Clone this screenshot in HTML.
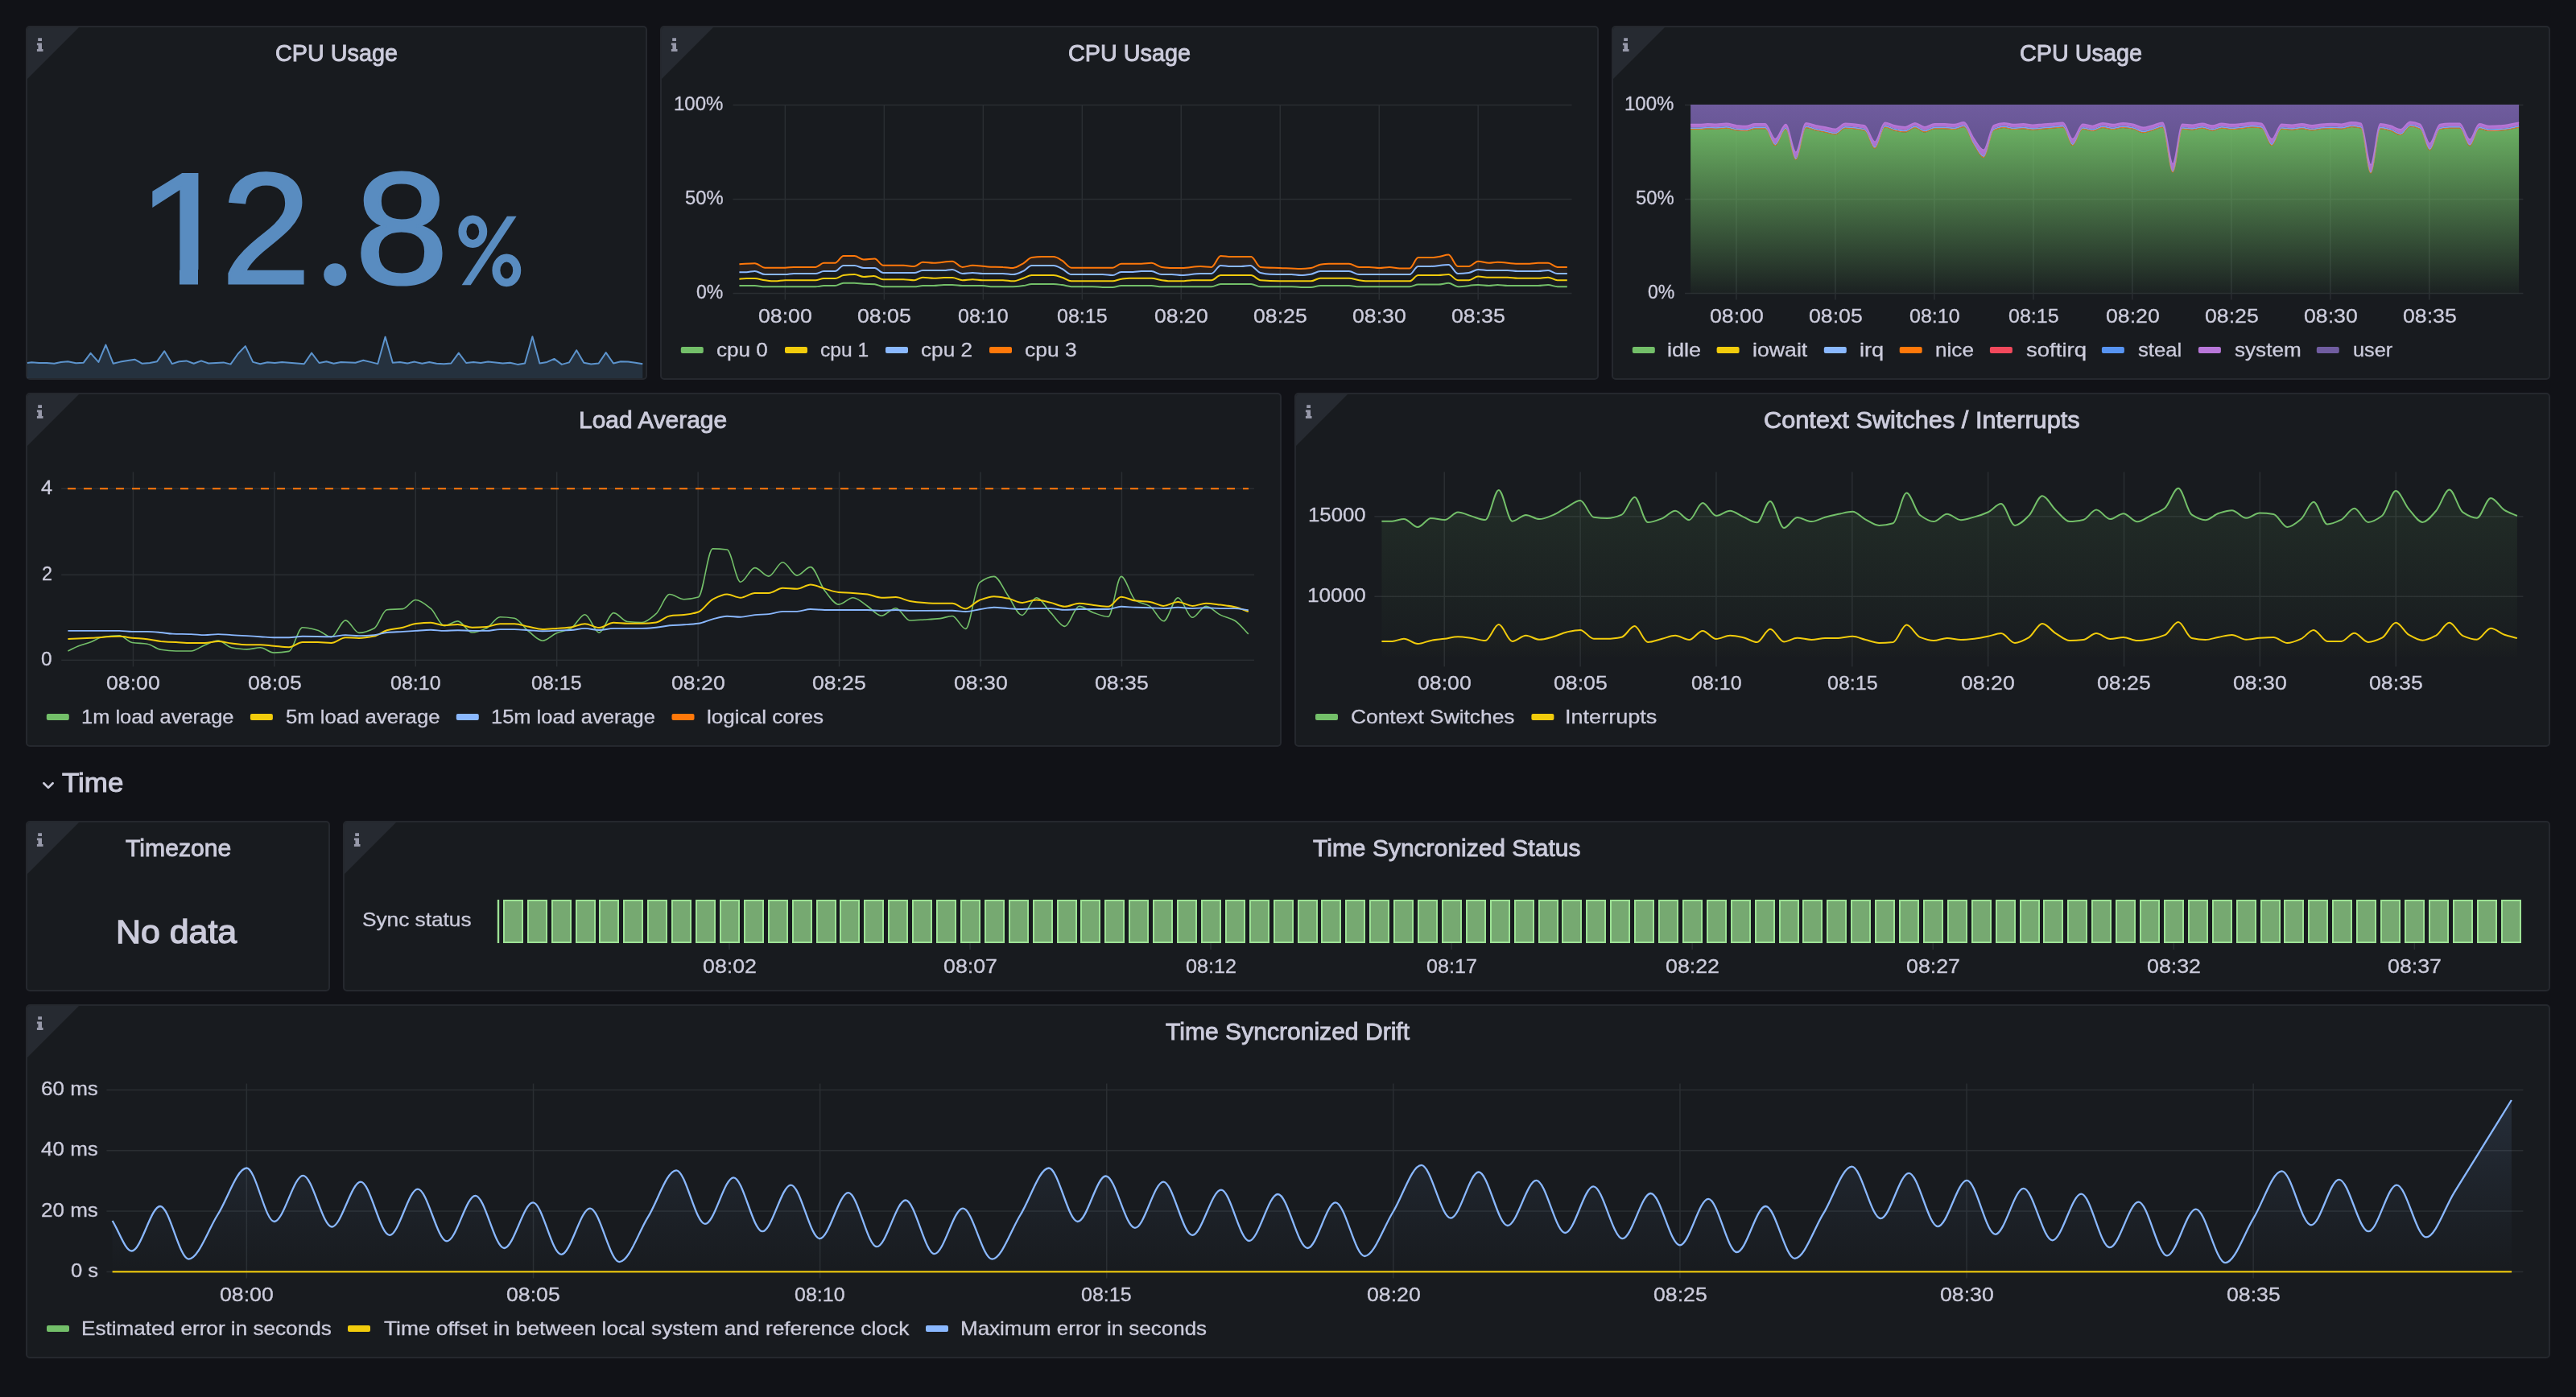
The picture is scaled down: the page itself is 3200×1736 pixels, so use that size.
<!DOCTYPE html>
<html><head><meta charset="utf-8"><title>Dashboard</title><style>
html,body{margin:0;padding:0;background:#111217}
body{width:3200px;height:1736px;position:relative;overflow:hidden;font-family:"Liberation Sans",sans-serif;color:#ccccdc}
.p{position:absolute;box-sizing:content-box;background:#181b1f;border:2px solid #25282e;border-radius:5px;overflow:hidden}
.c{position:absolute;left:0;top:0;width:0;height:0;border-top:64px solid #262a31;border-right:64px solid transparent}
.t{position:absolute;white-space:pre;line-height:1;transform-origin:0 0;font-weight:400;-webkit-text-stroke:0.3px #ccccdc}
svg{position:absolute;left:0;top:0}
.m{position:absolute;background:#181b1f}
#tx{position:absolute;left:0;top:0;width:3200px;height:1736px;will-change:transform}
</style></head><body>
<div class="p" style="left:32px;top:32px;width:768px;height:436px"><i class="c"></i></div>
<div class="p" style="left:820px;top:32px;width:1162px;height:436px"><i class="c"></i></div>
<div class="p" style="left:2002px;top:32px;width:1162px;height:436px"><i class="c"></i></div>
<div class="p" style="left:32px;top:488px;width:1556px;height:436px"><i class="c"></i></div>
<div class="p" style="left:1608px;top:488px;width:1556px;height:436px"><i class="c"></i></div>
<div class="p" style="left:32px;top:1020px;width:374px;height:208px"><i class="c"></i></div>
<div class="p" style="left:426px;top:1020px;width:2738px;height:208px"><i class="c"></i></div>
<div class="p" style="left:32px;top:1248px;width:3132px;height:436px"><i class="c"></i></div>
<svg width="3200" height="1736" viewBox="0 0 3200 1736"><defs><linearGradient id="gi" gradientUnits="userSpaceOnUse" x1="0" y1="160" x2="0" y2="364"><stop offset="0" stop-color="#73BF69" stop-opacity="0.9"/><stop offset="1" stop-color="#73BF69" stop-opacity="0.04"/></linearGradient><linearGradient id="gu" gradientUnits="userSpaceOnUse" x1="0" y1="130" x2="0" y2="215"><stop offset="0" stop-color="#725ea2" stop-opacity="0.97"/><stop offset="1" stop-color="#5f4f8b" stop-opacity="0.97"/></linearGradient><linearGradient id="gc" gradientUnits="userSpaceOnUse" x1="0" y1="610" x2="0" y2="820"><stop offset="0" stop-color="#73BF69" stop-opacity="0.11"/><stop offset="1" stop-color="#73BF69" stop-opacity="0"/></linearGradient><linearGradient id="gy" gradientUnits="userSpaceOnUse" x1="0" y1="770" x2="0" y2="820"><stop offset="0" stop-color="#F2CC0C" stop-opacity="0.03"/><stop offset="1" stop-color="#F2CC0C" stop-opacity="0"/></linearGradient><linearGradient id="gd" gradientUnits="userSpaceOnUse" x1="0" y1="1367" x2="0" y2="1580"><stop offset="0" stop-color="#8AB8FF" stop-opacity="0.12"/><stop offset="0.45" stop-color="#8AB8FF" stop-opacity="0.06"/><stop offset="1" stop-color="#8AB8FF" stop-opacity="0"/></linearGradient></defs>
<path fill="#9799aa" d="M47.2 47.3h4.8v3.8h-4.8zM45.9 53.4h6.1v7.6h1.5v2.9h-7.6v-2.9h1.5v-4.8h-1.5z"/>
<path fill="#9799aa" d="M835.2 47.3h4.8v3.8h-4.8zM833.9 53.4h6.1v7.6h1.5v2.9h-7.6v-2.9h1.5v-4.8h-1.5z"/>
<path fill="#9799aa" d="M2017.2 47.3h4.8v3.8h-4.8zM2015.9 53.4h6.1v7.6h1.5v2.9h-7.6v-2.9h1.5v-4.8h-1.5z"/>
<path fill="#9799aa" d="M47.2 503.3h4.8v3.8h-4.8zM45.9 509.4h6.1v7.6h1.5v2.9h-7.6v-2.9h1.5v-4.8h-1.5z"/>
<path fill="#9799aa" d="M1623.2 503.3h4.8v3.8h-4.8zM1621.9 509.4h6.1v7.6h1.5v2.9h-7.6v-2.9h1.5v-4.8h-1.5z"/>
<path fill="#9799aa" d="M47.2 1035.3h4.8v3.8h-4.8zM45.9 1041.4h6.1v7.6h1.5v2.9h-7.6v-2.9h1.5v-4.8h-1.5z"/>
<path fill="#9799aa" d="M441.2 1035.3h4.8v3.8h-4.8zM439.9 1041.4h6.1v7.6h1.5v2.9h-7.6v-2.9h1.5v-4.8h-1.5z"/>
<path fill="#9799aa" d="M47.2 1263.3h4.8v3.8h-4.8zM45.9 1269.4h6.1v7.6h1.5v2.9h-7.6v-2.9h1.5v-4.8h-1.5z"/>
<circle cx="416.3" cy="341.3" r="14.1" fill="#598cc0"/>
<g fill="none" stroke="#598cc0" stroke-width="10"><ellipse cx="587.3" cy="287.7" rx="12.9" ry="15.3"/><ellipse cx="629.3" cy="335.9" rx="12.9" ry="15.3"/></g>
<path d="M629.9 268.8H641.6L584.7 354.2H573.6Z" fill="#598cc0"/>
<path d="M33.9 451L39.3 450.2L48.6 451L58 451L67.3 451.8L75.8 449.9L84.3 449.2L94.4 451.3L103.8 450.7L112.6 438.9L122.4 449.9L131.4 428.5L140.7 451.8L149.6 449.6L158.9 448.1L167.4 446.7L176.7 451.8L186.1 451L195.1 449.2L204.2 436.3L213.7 452.1L222.5 449.2L231.6 448.4L240.7 451.8L250 448.4L259 451.5L268.4 451L277.7 450.4L286.5 452.6L295.5 439.7L304.8 430.1L314.2 449.9L323.2 452.3L332.3 450.2L341.3 451L350.3 449.9L359.5 450.7L368.8 451.5L377.8 452.3L387.1 438.6L396.5 451L405.5 449.2L414.5 451.8L423.6 449.9L441.6 450.7L451.3 447.8L460.3 449.9L469.3 452.1L478.6 418.6L487.8 450.7L496.8 449.9L506.1 451.5L515.1 449.6L524.3 451.8L533.3 449.9L542.3 451.8L551.4 452.3L560.4 451.5L569.8 438.6L579.1 451L588.1 449.9L597.2 451L606.2 449.6L615.6 450.4L624.6 451.5L633.7 450.7L643 452.9L652 451.5L661.4 418.3L670.4 451.5L679.5 449.9L688.5 445.9L697.9 452.9L706.9 450.4L716.2 435.2L725.3 450.7L734.3 452.6L743.7 451.5L752.7 438.1L762 451.5L771.1 449.2L780.2 449.6L789.2 450.7L798.3 452.3L798.3 470L33.9 470Z" fill="#598cc0" fill-opacity="0.2"/>
<path d="M33.9 451L39.3 450.2L48.6 451L58 451L67.3 451.8L75.8 449.9L84.3 449.2L94.4 451.3L103.8 450.7L112.6 438.9L122.4 449.9L131.4 428.5L140.7 451.8L149.6 449.6L158.9 448.1L167.4 446.7L176.7 451.8L186.1 451L195.1 449.2L204.2 436.3L213.7 452.1L222.5 449.2L231.6 448.4L240.7 451.8L250 448.4L259 451.5L268.4 451L277.7 450.4L286.5 452.6L295.5 439.7L304.8 430.1L314.2 449.9L323.2 452.3L332.3 450.2L341.3 451L350.3 449.9L359.5 450.7L368.8 451.5L377.8 452.3L387.1 438.6L396.5 451L405.5 449.2L414.5 451.8L423.6 449.9L441.6 450.7L451.3 447.8L460.3 449.9L469.3 452.1L478.6 418.6L487.8 450.7L496.8 449.9L506.1 451.5L515.1 449.6L524.3 451.8L533.3 449.9L542.3 451.8L551.4 452.3L560.4 451.5L569.8 438.6L579.1 451L588.1 449.9L597.2 451L606.2 449.6L615.6 450.4L624.6 451.5L633.7 450.7L643 452.9L652 451.5L661.4 418.3L670.4 451.5L679.5 449.9L688.5 445.9L697.9 452.9L706.9 450.4L716.2 435.2L725.3 450.7L734.3 452.6L743.7 451.5L752.7 438.1L762 451.5L771.1 449.2L780.2 449.6L789.2 450.7L798.3 452.3" fill="none" stroke="#5c93cc" stroke-width="2" stroke-linejoin="round"/>
<rect x="910.5" y="129.8" width="1042" height="1.5" fill="#2a2e32"/>
<rect x="910.5" y="246.8" width="1042" height="1.5" fill="#2a2e32"/>
<rect x="910.5" y="363.8" width="1042" height="1.5" fill="#2a2e32"/>
<rect x="974.6" y="130.5" width="1.5" height="242" fill="#2a2e32"/>
<rect x="1097.6" y="130.5" width="1.5" height="242" fill="#2a2e32"/>
<rect x="1220.6" y="130.5" width="1.5" height="242" fill="#2a2e32"/>
<rect x="1343.6" y="130.5" width="1.5" height="242" fill="#2a2e32"/>
<rect x="1466.5" y="130.5" width="1.5" height="242" fill="#2a2e32"/>
<rect x="1589.5" y="130.5" width="1.5" height="242" fill="#2a2e32"/>
<rect x="1712.5" y="130.5" width="1.5" height="242" fill="#2a2e32"/>
<rect x="1835.4" y="130.5" width="1.5" height="242" fill="#2a2e32"/>
<path d="M918.4 328.3C924.9 328 931.3 327.3 937.7 327.3C941.9 327.3 946.1 332.7 950.3 332.7C958.7 332.7 967.1 332.7 975.5 332.7C979 332.7 982.5 331.9 986 331.9C995 331.9 1004.1 331.9 1013.2 331.9C1016.6 331.9 1019.9 326.8 1023.3 326.8C1028 326.8 1032.6 326.8 1037.3 326.8C1040.8 326.8 1044.3 318 1047.8 318C1052.3 318 1056.9 318 1061.4 318C1065.3 318 1069.1 322.6 1073 322.6C1077.5 322.6 1082 321.6 1086.6 321.6C1090.1 321.6 1093.6 329.8 1097.1 329.8C1105.5 329.8 1113.8 329.8 1122.2 329.8C1126.8 329.8 1131.3 331 1135.8 331C1139.3 331 1142.8 325.8 1146.3 325.8C1150.9 325.8 1155.4 326.8 1160 326.8C1167.6 326.8 1175.3 324.7 1183 324.7C1187.2 324.7 1191.4 331.9 1195.6 331.9C1199.8 331.9 1204 329.8 1208.2 329.8C1214.5 329.8 1220.8 331.2 1227 331.4C1233.3 331.7 1239.6 331.6 1245.9 331.9C1250.1 332 1254.3 332.9 1258.5 332.9C1262.7 332.9 1266.9 329.5 1271.1 327.3C1274.6 325.3 1278.1 320.7 1281.6 320.1C1285.7 319.5 1289.9 319.1 1294.1 319.1C1299 319.1 1303.9 319.1 1308.8 319.1C1312.3 319.1 1315.8 321.7 1319.3 323.7C1323.1 325.8 1327 332.7 1330.8 332.7C1347.9 332.7 1365.1 332.7 1382.2 332.7C1385.7 332.7 1389.2 327.7 1392.7 327.7C1401 327.7 1409.4 327.7 1417.8 327.7C1422 327.7 1426.2 326.8 1430.4 326.8C1434.6 326.8 1438.8 331.3 1443.1 331.9C1447.3 332.4 1451.4 332.9 1455.6 332.9C1459.8 332.9 1464 332.9 1468.2 332.9C1475.9 332.9 1483.6 331 1491.3 331C1495.8 331 1500.4 331.9 1504.9 331.9C1508.7 331.9 1512.6 318 1516.4 318C1520.6 318 1524.8 319.1 1529 319.1C1537.4 319.1 1545.8 319.1 1554.2 319.1C1558 319.1 1561.9 331.5 1565.7 331.9C1573.7 332.6 1581.8 332.6 1589.8 332.9C1598.5 333.3 1607.3 334 1616 334C1620.2 334 1624.4 333.5 1628.6 332.9C1632.4 332.4 1636.3 329.3 1640.1 328.7C1643.6 328.2 1647.1 327.7 1650.6 327.7C1659 327.7 1667.4 327.7 1675.8 327.7C1680 327.7 1684.2 331.9 1688.3 331.9C1692.5 331.9 1696.7 331.9 1700.9 331.9C1705.1 331.9 1709.3 332.9 1713.5 332.9C1717.7 332.9 1721.9 331.9 1726.1 331.9C1730.3 331.9 1734.5 333.5 1738.7 333.5C1742.9 333.5 1747 333.5 1751.2 333.5C1754.7 333.5 1758.2 320.1 1761.7 320.1C1766.6 320.1 1771.5 320.1 1776.4 320.1C1779.9 320.1 1783.4 319.5 1786.9 319.1C1791.1 318.5 1795.3 316.6 1799.5 316.6C1803.3 316.6 1807.1 331 1811 331C1815.5 331 1820.1 331 1824.6 331C1828.5 331 1832.3 324.7 1836.1 324.7C1840.7 324.7 1845.2 326.8 1849.8 326.8C1853.3 326.8 1856.8 325.8 1860.3 325.8C1868.6 325.8 1877 327.7 1885.4 327.7C1890.3 327.7 1895.2 327.7 1900.1 327.7C1903.6 327.7 1907.1 326.8 1910.6 326.8C1914.8 326.8 1919 326.8 1923.1 326.8C1927 326.8 1930.8 331.9 1934.7 331.9C1938.7 331.9 1942.8 331.9 1946.8 331.9L1946.8 340C1942.8 340 1938.7 340 1934.7 340C1930.8 340 1927 336.1 1923.1 336.1C1919 336.1 1914.8 337.1 1910.6 337.1C1902.2 337.1 1893.8 337.1 1885.4 337.1C1881.2 337.1 1877 336.1 1872.8 336.1C1865.1 336.1 1857.5 336.1 1849.8 336.1C1845.2 336.1 1840.7 335 1836.1 335C1832.3 335 1828.5 338.5 1824.6 339C1820.1 339.6 1815.5 340 1811 340C1807.1 340 1803.3 328.9 1799.5 328.9C1791.8 328.9 1784.1 331 1776.4 331C1771.5 331 1766.6 331 1761.7 331C1758.2 331 1754.7 341.1 1751.2 341.1C1730.3 341.1 1709.3 341.1 1688.3 341.1C1684.2 341.1 1680 337.1 1675.8 337.1C1663.9 337.1 1652 337.1 1640.1 337.1C1636.3 337.1 1632.4 340 1628.6 340.7C1624.4 341.4 1620.2 342.1 1616 342.1C1612.2 342.1 1608.3 341.2 1604.5 341.1C1595.4 340.8 1586.3 341 1577.2 340.7C1573.4 340.6 1569.5 339.9 1565.7 339C1561.5 338 1557.3 330 1553.1 330C1549.3 330 1545.4 331 1541.6 331C1537.4 331 1533.2 331 1529 331C1524.8 331 1520.6 330 1516.4 330C1512.6 330 1508.7 340 1504.9 340C1500.4 340 1495.8 340 1491.3 340C1483.6 340 1475.9 342.1 1468.2 342.1C1464 342.1 1459.8 341.1 1455.6 341.1C1451.4 341.1 1447.3 341.1 1443.1 341.1C1438.8 341.1 1434.6 337.1 1430.4 337.1C1426.2 337.1 1422 337.1 1417.8 337.1C1414.3 337.1 1410.8 337.9 1407.3 337.9C1402.4 337.9 1397.6 337.9 1392.7 337.9C1389.2 337.9 1385.7 342.1 1382.2 342.1C1378 342.1 1373.8 341.1 1369.6 341.1C1356.7 341.1 1343.7 341.1 1330.8 341.1C1327 341.1 1323.1 335.8 1319.3 334C1315.8 332.3 1312.3 330 1308.8 330C1299.7 330 1290.6 330 1281.6 330C1278.1 330 1274.6 335.3 1271.1 336.9C1266.9 338.8 1262.7 341.1 1258.5 341.1C1254.3 341.1 1250.1 340 1245.9 340C1237.5 340 1229.1 340 1220.8 340C1216.6 340 1212.4 339 1208.2 339C1204 339 1199.8 340 1195.6 340C1191.4 340 1187.2 335 1183 335C1179.5 335 1176 336.1 1172.5 336.1C1163.8 336.1 1155.1 336.1 1146.3 336.1C1142.8 336.1 1139.3 339 1135.8 339C1122.9 339 1110 339 1097.1 339C1093.6 339 1090.1 332.9 1086.6 332.9C1082 332.9 1077.5 332.9 1073 332.9C1069.1 332.9 1065.3 330 1061.4 330C1056.9 330 1052.3 330 1047.8 330C1044.3 330 1040.8 337.1 1037.3 337.1C1032.6 337.1 1028 337.1 1023.3 337.1C1019.9 337.1 1016.6 340 1013.2 340C1004.1 340 995 340 986 340C982.5 340 979 341.1 975.5 341.1C967.1 341.1 958.7 341.1 950.3 341.1C946.1 341.1 941.9 336.9 937.7 336.9C934.2 336.9 930.7 338.2 927.3 338.2C924.3 338.2 921.4 338.2 918.4 338.2Z" fill="#FF780A" fill-opacity="0.075"/>
<path d="M918.4 355.1C924.9 355.1 931.3 355.1 937.7 355.1C941.9 355.1 946.1 356.2 950.3 356.2C971.3 356.2 992.2 356.2 1013.2 356.2C1016.6 356.2 1019.9 355.1 1023.3 355.1C1028 355.1 1032.6 355.1 1037.3 355.1C1040.8 355.1 1044.3 351.8 1047.8 351.8C1052.3 351.8 1056.9 351.8 1061.4 351.8C1065.3 351.8 1069.1 352.7 1073 352.8C1077.5 353 1082 353 1086.6 353.2C1090.1 353.5 1093.6 356.2 1097.1 356.2C1110 356.2 1122.9 356.2 1135.8 356.2C1139.3 356.2 1142.8 355.1 1146.3 355.1C1150.9 355.1 1155.4 355.1 1160 355.1C1164.2 355.1 1168.3 354.1 1172.5 354.1C1176 354.1 1179.5 354.1 1183 354.1C1187.2 354.1 1191.4 355.1 1195.6 355.1C1204 355.1 1212.4 355.1 1220.8 355.1C1224.9 355.1 1229.1 356.2 1233.3 356.2C1241.7 356.2 1250.1 356.2 1258.5 356.2C1262.7 356.2 1266.9 355.6 1271.1 355.1C1274.6 354.7 1278.1 353 1281.6 353C1290.6 353 1299.7 353 1308.8 353C1312.3 353 1315.8 353.6 1319.3 354.1C1323.1 354.6 1327 356.2 1330.8 356.2C1339.6 356.2 1348.3 356.2 1357 356.2C1361.2 356.2 1365.4 357 1369.6 357C1373.8 357 1378 357 1382.2 357C1385.7 357 1389.2 355.1 1392.7 355.1C1405.2 355.1 1417.8 355.1 1430.4 355.1C1434.6 355.1 1438.8 356.2 1443.1 356.2C1463.7 356.2 1484.3 356.2 1504.9 356.2C1508.7 356.2 1512.6 353 1516.4 353C1529 353 1541.6 353 1554.2 353C1558 353 1561.9 356.2 1565.7 356.2C1578.6 356.2 1591.6 356.2 1604.5 356.2C1608.3 356.2 1612.2 357 1616 357C1620.2 357 1624.4 357 1628.6 357C1632.4 357 1636.3 355.1 1640.1 355.1C1652 355.1 1663.9 355.1 1675.8 355.1C1680 355.1 1684.2 356.2 1688.3 356.2C1709.3 356.2 1730.3 356.2 1751.2 356.2C1754.7 356.2 1758.2 353.5 1761.7 353.5C1770.1 353.5 1778.5 353.5 1786.9 353.5C1791.1 353.5 1795.3 351.8 1799.5 351.8C1803.3 351.8 1807.1 356.2 1811 356.2C1819.4 356.2 1827.8 354.1 1836.1 354.1C1840.7 354.1 1845.2 355.1 1849.8 355.1C1853.3 355.1 1856.8 354.1 1860.3 354.1C1864.4 354.1 1868.6 355.1 1872.8 355.1C1885.4 355.1 1898 355.1 1910.6 355.1C1914.8 355.1 1919 354.1 1923.1 354.1C1927 354.1 1930.8 356.2 1934.7 356.2C1938.7 356.2 1942.8 356.2 1946.8 356.2" fill="none" stroke="#73BF69" stroke-width="2" stroke-linejoin="round"/>
<path d="M918.4 346.8C921.4 346.5 924.3 346.1 927.3 346.1C930.7 346.1 934.2 346.1 937.7 346.1C941.9 346.1 946.1 347.8 950.3 348.2C954.5 348.7 958.7 349.3 962.9 349.3C967.1 349.3 971.3 348.2 975.5 348.2C988.1 348.2 1000.6 348.2 1013.2 348.2C1016.6 348.2 1019.9 346.1 1023.3 346.1C1028 346.1 1032.6 346.1 1037.3 346.1C1040.8 346.1 1044.3 342.6 1047.8 342.1C1052.3 341.5 1056.9 341.1 1061.4 341.1C1065.3 341.1 1069.1 344 1073 344C1077.1 344 1081.3 343 1085.5 343C1089.4 343 1093.2 347.2 1097.1 347.2C1105.5 347.2 1113.8 347.2 1122.2 347.2C1126.8 347.2 1131.3 348.2 1135.8 348.2C1139.3 348.2 1142.8 344.7 1146.3 344.7C1150.9 344.7 1155.4 345.7 1160 345.7C1164.2 345.7 1168.3 345.1 1172.5 345.1C1176 345.1 1179.5 345.1 1183 345.1C1187.2 345.1 1191.4 348.2 1195.6 348.2C1199.8 348.2 1204 347.2 1208.2 347.2C1212.4 347.2 1216.6 348.2 1220.8 348.2C1229.1 348.2 1237.5 348.2 1245.9 348.2C1250.1 348.2 1254.3 349.3 1258.5 349.3C1262.7 349.3 1266.9 347 1271.1 345.7C1274.6 344.6 1278.1 342.1 1281.6 342.1C1290.6 342.1 1299.7 342.1 1308.8 342.1C1312.3 342.1 1315.8 343.6 1319.3 344.7C1323.1 345.8 1327 349.3 1330.8 349.3C1347.9 349.3 1365.1 349.3 1382.2 349.3C1385.7 349.3 1389.2 347.2 1392.7 346.8C1396.2 346.3 1399.7 345.7 1403.1 345.7C1412.2 345.7 1421.3 345.7 1430.4 345.7C1434.6 345.7 1438.8 347.7 1443.1 348.2C1447.3 348.7 1451.4 349.3 1455.6 349.3C1459.8 349.3 1464 349.3 1468.2 349.3C1472.4 349.3 1476.6 348.2 1480.8 348.2C1488.8 348.2 1496.9 348.2 1504.9 348.2C1508.7 348.2 1512.6 342.1 1516.4 342.1C1529 342.1 1541.6 342.1 1554.2 342.1C1558 342.1 1561.9 347.9 1565.7 348.2C1573.7 348.9 1581.8 349.3 1589.8 349.3C1602.7 349.3 1615.7 349.3 1628.6 349.3C1632.4 349.3 1636.3 345.7 1640.1 345.7C1652 345.7 1663.9 345.7 1675.8 345.7C1680 345.7 1684.2 347.7 1688.3 348.2C1692.5 348.7 1696.7 349.3 1700.9 349.3C1717.7 349.3 1734.5 349.3 1751.2 349.3C1754.7 349.3 1758.2 342.1 1761.7 342.1C1770.1 342.1 1778.5 342.1 1786.9 342.1C1791.1 342.1 1795.3 341.1 1799.5 341.1C1803.3 341.1 1807.1 348.2 1811 348.2C1815.5 348.2 1820.1 348.2 1824.6 348.2C1828.5 348.2 1832.3 343.6 1836.1 343.6C1840.7 343.6 1845.2 344.7 1849.8 344.7C1857.5 344.7 1865.1 344.7 1872.8 344.7C1877 344.7 1881.2 345.7 1885.4 345.7C1893.8 345.7 1902.2 345.7 1910.6 345.7C1914.8 345.7 1919 344.7 1923.1 344.7C1927 344.7 1930.8 348.2 1934.7 348.2C1938.7 348.2 1942.8 348.2 1946.8 348.2" fill="none" stroke="#F2CC0C" stroke-width="2" stroke-linejoin="round"/>
<path d="M918.4 338.2C921.4 338.2 924.3 338.2 927.3 338.2C930.7 338.2 934.2 336.9 937.7 336.9C941.9 336.9 946.1 341.1 950.3 341.1C958.7 341.1 967.1 341.1 975.5 341.1C979 341.1 982.5 340 986 340C995 340 1004.1 340 1013.2 340C1016.6 340 1019.9 337.1 1023.3 337.1C1028 337.1 1032.6 337.1 1037.3 337.1C1040.8 337.1 1044.3 330 1047.8 330C1052.3 330 1056.9 330 1061.4 330C1065.3 330 1069.1 332.9 1073 332.9C1077.5 332.9 1082 332.9 1086.6 332.9C1090.1 332.9 1093.6 339 1097.1 339C1110 339 1122.9 339 1135.8 339C1139.3 339 1142.8 336.1 1146.3 336.1C1155.1 336.1 1163.8 336.1 1172.5 336.1C1176 336.1 1179.5 335 1183 335C1187.2 335 1191.4 340 1195.6 340C1199.8 340 1204 339 1208.2 339C1212.4 339 1216.6 340 1220.8 340C1229.1 340 1237.5 340 1245.9 340C1250.1 340 1254.3 341.1 1258.5 341.1C1262.7 341.1 1266.9 338.8 1271.1 336.9C1274.6 335.3 1278.1 330 1281.6 330C1290.6 330 1299.7 330 1308.8 330C1312.3 330 1315.8 332.3 1319.3 334C1323.1 335.8 1327 341.1 1330.8 341.1C1343.7 341.1 1356.7 341.1 1369.6 341.1C1373.8 341.1 1378 342.1 1382.2 342.1C1385.7 342.1 1389.2 337.9 1392.7 337.9C1397.6 337.9 1402.4 337.9 1407.3 337.9C1410.8 337.9 1414.3 337.1 1417.8 337.1C1422 337.1 1426.2 337.1 1430.4 337.1C1434.6 337.1 1438.8 341.1 1443.1 341.1C1447.3 341.1 1451.4 341.1 1455.6 341.1C1459.8 341.1 1464 342.1 1468.2 342.1C1475.9 342.1 1483.6 340 1491.3 340C1495.8 340 1500.4 340 1504.9 340C1508.7 340 1512.6 330 1516.4 330C1520.6 330 1524.8 331 1529 331C1533.2 331 1537.4 331 1541.6 331C1545.4 331 1549.3 330 1553.1 330C1557.3 330 1561.5 338 1565.7 339C1569.5 339.9 1573.4 340.6 1577.2 340.7C1586.3 341 1595.4 340.8 1604.5 341.1C1608.3 341.2 1612.2 342.1 1616 342.1C1620.2 342.1 1624.4 341.4 1628.6 340.7C1632.4 340 1636.3 337.1 1640.1 337.1C1652 337.1 1663.9 337.1 1675.8 337.1C1680 337.1 1684.2 341.1 1688.3 341.1C1709.3 341.1 1730.3 341.1 1751.2 341.1C1754.7 341.1 1758.2 331 1761.7 331C1766.6 331 1771.5 331 1776.4 331C1784.1 331 1791.8 328.9 1799.5 328.9C1803.3 328.9 1807.1 340 1811 340C1815.5 340 1820.1 339.6 1824.6 339C1828.5 338.5 1832.3 335 1836.1 335C1840.7 335 1845.2 336.1 1849.8 336.1C1857.5 336.1 1865.1 336.1 1872.8 336.1C1877 336.1 1881.2 337.1 1885.4 337.1C1893.8 337.1 1902.2 337.1 1910.6 337.1C1914.8 337.1 1919 336.1 1923.1 336.1C1927 336.1 1930.8 340 1934.7 340C1938.7 340 1942.8 340 1946.8 340" fill="none" stroke="#8AB8FF" stroke-width="2" stroke-linejoin="round"/>
<path d="M918.4 328.3C924.9 328 931.3 327.3 937.7 327.3C941.9 327.3 946.1 332.7 950.3 332.7C958.7 332.7 967.1 332.7 975.5 332.7C979 332.7 982.5 331.9 986 331.9C995 331.9 1004.1 331.9 1013.2 331.9C1016.6 331.9 1019.9 326.8 1023.3 326.8C1028 326.8 1032.6 326.8 1037.3 326.8C1040.8 326.8 1044.3 318 1047.8 318C1052.3 318 1056.9 318 1061.4 318C1065.3 318 1069.1 322.6 1073 322.6C1077.5 322.6 1082 321.6 1086.6 321.6C1090.1 321.6 1093.6 329.8 1097.1 329.8C1105.5 329.8 1113.8 329.8 1122.2 329.8C1126.8 329.8 1131.3 331 1135.8 331C1139.3 331 1142.8 325.8 1146.3 325.8C1150.9 325.8 1155.4 326.8 1160 326.8C1167.6 326.8 1175.3 324.7 1183 324.7C1187.2 324.7 1191.4 331.9 1195.6 331.9C1199.8 331.9 1204 329.8 1208.2 329.8C1214.5 329.8 1220.8 331.2 1227 331.4C1233.3 331.7 1239.6 331.6 1245.9 331.9C1250.1 332 1254.3 332.9 1258.5 332.9C1262.7 332.9 1266.9 329.5 1271.1 327.3C1274.6 325.3 1278.1 320.7 1281.6 320.1C1285.7 319.5 1289.9 319.1 1294.1 319.1C1299 319.1 1303.9 319.1 1308.8 319.1C1312.3 319.1 1315.8 321.7 1319.3 323.7C1323.1 325.8 1327 332.7 1330.8 332.7C1347.9 332.7 1365.1 332.7 1382.2 332.7C1385.7 332.7 1389.2 327.7 1392.7 327.7C1401 327.7 1409.4 327.7 1417.8 327.7C1422 327.7 1426.2 326.8 1430.4 326.8C1434.6 326.8 1438.8 331.3 1443.1 331.9C1447.3 332.4 1451.4 332.9 1455.6 332.9C1459.8 332.9 1464 332.9 1468.2 332.9C1475.9 332.9 1483.6 331 1491.3 331C1495.8 331 1500.4 331.9 1504.9 331.9C1508.7 331.9 1512.6 318 1516.4 318C1520.6 318 1524.8 319.1 1529 319.1C1537.4 319.1 1545.8 319.1 1554.2 319.1C1558 319.1 1561.9 331.5 1565.7 331.9C1573.7 332.6 1581.8 332.6 1589.8 332.9C1598.5 333.3 1607.3 334 1616 334C1620.2 334 1624.4 333.5 1628.6 332.9C1632.4 332.4 1636.3 329.3 1640.1 328.7C1643.6 328.2 1647.1 327.7 1650.6 327.7C1659 327.7 1667.4 327.7 1675.8 327.7C1680 327.7 1684.2 331.9 1688.3 331.9C1692.5 331.9 1696.7 331.9 1700.9 331.9C1705.1 331.9 1709.3 332.9 1713.5 332.9C1717.7 332.9 1721.9 331.9 1726.1 331.9C1730.3 331.9 1734.5 333.5 1738.7 333.5C1742.9 333.5 1747 333.5 1751.2 333.5C1754.7 333.5 1758.2 320.1 1761.7 320.1C1766.6 320.1 1771.5 320.1 1776.4 320.1C1779.9 320.1 1783.4 319.5 1786.9 319.1C1791.1 318.5 1795.3 316.6 1799.5 316.6C1803.3 316.6 1807.1 331 1811 331C1815.5 331 1820.1 331 1824.6 331C1828.5 331 1832.3 324.7 1836.1 324.7C1840.7 324.7 1845.2 326.8 1849.8 326.8C1853.3 326.8 1856.8 325.8 1860.3 325.8C1868.6 325.8 1877 327.7 1885.4 327.7C1890.3 327.7 1895.2 327.7 1900.1 327.7C1903.6 327.7 1907.1 326.8 1910.6 326.8C1914.8 326.8 1919 326.8 1923.1 326.8C1927 326.8 1930.8 331.9 1934.7 331.9C1938.7 331.9 1942.8 331.9 1946.8 331.9" fill="none" stroke="#FF780A" stroke-width="2" stroke-linejoin="round"/>
<rect x="845.8" y="431" width="28" height="8" rx="2" fill="#73BF69"/>
<rect x="975" y="431" width="28" height="8" rx="2" fill="#F2CC0C"/>
<rect x="1100" y="431" width="28" height="8" rx="2" fill="#8AB8FF"/>
<rect x="1229" y="431" width="28" height="8" rx="2" fill="#FF780A"/>
<rect x="2093" y="129.8" width="1041.4" height="1.5" fill="#2a2e32"/>
<rect x="2093" y="246.8" width="1041.4" height="1.5" fill="#2a2e32"/>
<rect x="2093" y="363.8" width="1041.4" height="1.5" fill="#2a2e32"/>
<rect x="2156.2" y="130.5" width="1.5" height="242" fill="#2a2e32"/>
<rect x="2279.2" y="130.5" width="1.5" height="242" fill="#2a2e32"/>
<rect x="2402.2" y="130.5" width="1.5" height="242" fill="#2a2e32"/>
<rect x="2525.2" y="130.5" width="1.5" height="242" fill="#2a2e32"/>
<rect x="2648.1" y="130.5" width="1.5" height="242" fill="#2a2e32"/>
<rect x="2771.1" y="130.5" width="1.5" height="242" fill="#2a2e32"/>
<rect x="2894.1" y="130.5" width="1.5" height="242" fill="#2a2e32"/>
<rect x="3017" y="130.5" width="1.5" height="242" fill="#2a2e32"/>
<path d="M2100.1 130L3129.1 130L3129.1 152.3L3129.1 152.3C3125.2 153.1 3121.3 154 3117.3 154.6C3113.1 155.2 3109 155.9 3104.8 156.1C3100.6 156.3 3096.4 156.5 3092.2 156.5C3088.1 156.5 3084.1 153.8 3080 153.8C3076 153.8 3072.1 173.4 3068.1 173.4C3063.9 173.4 3059.7 153.3 3055.5 153.3C3051.3 153.3 3047.1 153.3 3042.9 153.3C3038.9 153.3 3034.9 153.8 3031 154.6C3026.8 155.5 3022.6 178.2 3018.4 178.2C3014.3 178.2 3010.3 155.9 3006.2 154.2C3002.2 152.5 2998.1 151.3 2994.1 151.3C2990.1 151.3 2986.1 160.9 2982.1 160.9C2977.9 160.9 2973.7 157.2 2969.5 156.1C2965.3 155.1 2961.2 153.8 2957 153.8C2953 153.8 2949 204.7 2945 204.7C2941 204.7 2936.9 154.2 2932.9 153.3C2929 152.4 2925.2 151.9 2921.3 151.9C2917.1 151.9 2912.9 154.2 2908.7 154.2C2904.5 154.2 2900.4 153.6 2896.2 153.6C2892 153.6 2887.8 153.9 2883.6 154.2C2879.7 154.5 2875.9 155.8 2872.1 155.8C2867.9 155.8 2863.7 153.8 2859.5 153.8C2855.3 153.8 2851.1 155.2 2846.9 155.2C2842.7 155.2 2838.5 154.2 2834.3 154.2C2830.3 154.2 2826.2 172.8 2822.2 172.8C2817.8 172.8 2813.5 153.9 2809.2 153.3C2805.3 152.7 2801.5 152.3 2797.6 152.3C2793.4 152.3 2789.2 153.3 2785.1 153.6C2780.9 154 2776.7 154.6 2772.5 154.6C2768.3 154.6 2764.1 153.3 2759.9 153.3C2756.1 153.3 2752.2 156.1 2748.4 156.1C2744.2 156.1 2740 153.3 2735.8 153.3C2731.6 153.3 2727.4 155.2 2723.2 155.2C2719.2 155.2 2715.1 154.2 2711 154.2C2707.1 154.2 2703.1 203.7 2699.1 203.7C2694.9 203.7 2690.7 152.3 2686.5 152.3C2682.3 152.3 2678.1 154.7 2673.9 155.8C2670.1 156.7 2666.3 158.4 2662.4 158.4C2658.2 158.4 2654 155 2649.8 154.2C2645.6 153.5 2641.4 152.7 2637.3 152.7C2633 152.7 2628.8 154.6 2624.6 154.6C2620.4 154.6 2616.2 152.7 2612 152.7C2607.8 152.7 2603.6 156.5 2599.4 156.5C2595.4 156.5 2591.3 154.2 2587.3 154.2C2583.1 154.2 2578.9 172.8 2574.7 172.8C2570.7 172.8 2566.7 152.3 2562.7 152.3C2558.6 152.3 2554.4 152.9 2550.2 153.3C2546 153.6 2541.8 153.9 2537.6 154.2C2533.4 154.5 2529.2 155.2 2525 155.2C2521.2 155.2 2517.3 153.8 2513.5 153.8C2509.3 153.8 2505.1 154.6 2500.9 154.6C2497.1 154.6 2493.2 152.7 2489.4 152.7C2485.2 152.7 2481 153.9 2476.8 155.8C2472.6 157.6 2468.4 186.4 2464.2 186.4C2460 186.4 2455.8 177.3 2451.6 171.5C2447.7 166 2443.7 151.9 2439.7 151.9C2435.6 151.9 2431.6 154.6 2427.5 154.6C2423.7 154.6 2419.8 153.8 2416 153.8C2411.8 153.8 2407.6 153.8 2403.4 153.8C2399.2 153.8 2395 157.7 2390.8 157.7C2386.9 157.7 2382.9 152.7 2378.9 152.7C2374.8 152.7 2370.8 157.7 2366.7 157.7C2362.5 157.7 2358.3 156.9 2354.2 156.1C2350 155.4 2345.8 152.3 2341.6 152.3C2337.4 152.3 2333.2 176.3 2329 176.3C2324.8 176.3 2320.6 157.4 2316.4 156.1C2312.6 155 2308.7 154.6 2304.9 154.2C2300.7 153.8 2296.5 153.3 2292.3 153.3C2288.1 153.3 2283.9 160.4 2279.7 160.4C2275.9 160.4 2272 158.8 2268.2 158.1C2264 157.3 2259.8 156.6 2255.6 155.8C2251.6 154.9 2247.5 152.7 2243.5 152.7C2239.3 152.7 2235.1 189.1 2230.9 189.1C2226.7 189.1 2222.5 154.6 2218.3 154.6C2214 154.6 2209.6 172.8 2205.3 172.8C2201.1 172.8 2196.9 153.8 2192.7 153.8C2188.5 153.8 2184.3 153.8 2180.1 153.8C2176.3 153.8 2172.5 156.5 2168.6 156.5C2164.8 156.5 2160.9 156.1 2157.1 155.8C2152.9 155.3 2148.7 153.3 2144.5 153.3C2140.3 153.3 2136.1 154.2 2131.9 154.2C2128.4 154.2 2124.9 153.8 2121.4 153.8C2118 153.8 2114.5 154.6 2111 154.6C2107.3 154.6 2103.7 154.6 2100.1 154.6Z" fill="url(#gu)"/>
<path d="M2100.1 154.6C2103.7 154.6 2107.3 154.6 2111 154.6C2114.5 154.6 2118 153.8 2121.4 153.8C2124.9 153.8 2128.4 154.2 2131.9 154.2C2136.1 154.2 2140.3 153.3 2144.5 153.3C2148.7 153.3 2152.9 155.3 2157.1 155.8C2160.9 156.1 2164.8 156.5 2168.6 156.5C2172.5 156.5 2176.3 153.8 2180.1 153.8C2184.3 153.8 2188.5 153.8 2192.7 153.8C2196.9 153.8 2201.1 172.8 2205.3 172.8C2209.6 172.8 2214 154.6 2218.3 154.6C2222.5 154.6 2226.7 189.1 2230.9 189.1C2235.1 189.1 2239.3 152.7 2243.5 152.7C2247.5 152.7 2251.6 154.9 2255.6 155.8C2259.8 156.6 2264 157.3 2268.2 158.1C2272 158.8 2275.9 160.4 2279.7 160.4C2283.9 160.4 2288.1 153.3 2292.3 153.3C2296.5 153.3 2300.7 153.8 2304.9 154.2C2308.7 154.6 2312.6 155 2316.4 156.1C2320.6 157.4 2324.8 176.3 2329 176.3C2333.2 176.3 2337.4 152.3 2341.6 152.3C2345.8 152.3 2350 155.4 2354.2 156.1C2358.3 156.9 2362.5 157.7 2366.7 157.7C2370.8 157.7 2374.8 152.7 2378.9 152.7C2382.9 152.7 2386.9 157.7 2390.8 157.7C2395 157.7 2399.2 153.8 2403.4 153.8C2407.6 153.8 2411.8 153.8 2416 153.8C2419.8 153.8 2423.7 154.6 2427.5 154.6C2431.6 154.6 2435.6 151.9 2439.7 151.9C2443.7 151.9 2447.7 166 2451.6 171.5C2455.8 177.3 2460 186.4 2464.2 186.4C2468.4 186.4 2472.6 157.6 2476.8 155.8C2481 153.9 2485.2 152.7 2489.4 152.7C2493.2 152.7 2497.1 154.6 2500.9 154.6C2505.1 154.6 2509.3 153.8 2513.5 153.8C2517.3 153.8 2521.2 155.2 2525 155.2C2529.2 155.2 2533.4 154.5 2537.6 154.2C2541.8 153.9 2546 153.6 2550.2 153.3C2554.4 152.9 2558.6 152.3 2562.7 152.3C2566.7 152.3 2570.7 172.8 2574.7 172.8C2578.9 172.8 2583.1 154.2 2587.3 154.2C2591.3 154.2 2595.4 156.5 2599.4 156.5C2603.6 156.5 2607.8 152.7 2612 152.7C2616.2 152.7 2620.4 154.6 2624.6 154.6C2628.8 154.6 2633 152.7 2637.3 152.7C2641.4 152.7 2645.6 153.5 2649.8 154.2C2654 155 2658.2 158.4 2662.4 158.4C2666.3 158.4 2670.1 156.7 2673.9 155.8C2678.1 154.7 2682.3 152.3 2686.5 152.3C2690.7 152.3 2694.9 203.7 2699.1 203.7C2703.1 203.7 2707.1 154.2 2711 154.2C2715.1 154.2 2719.2 155.2 2723.2 155.2C2727.4 155.2 2731.6 153.3 2735.8 153.3C2740 153.3 2744.2 156.1 2748.4 156.1C2752.2 156.1 2756.1 153.3 2759.9 153.3C2764.1 153.3 2768.3 154.6 2772.5 154.6C2776.7 154.6 2780.9 154 2785.1 153.6C2789.2 153.3 2793.4 152.3 2797.6 152.3C2801.5 152.3 2805.3 152.7 2809.2 153.3C2813.5 153.9 2817.8 172.8 2822.2 172.8C2826.2 172.8 2830.3 154.2 2834.3 154.2C2838.5 154.2 2842.7 155.2 2846.9 155.2C2851.1 155.2 2855.3 153.8 2859.5 153.8C2863.7 153.8 2867.9 155.8 2872.1 155.8C2875.9 155.8 2879.7 154.5 2883.6 154.2C2887.8 153.9 2892 153.6 2896.2 153.6C2900.4 153.6 2904.5 154.2 2908.7 154.2C2912.9 154.2 2917.1 151.9 2921.3 151.9C2925.2 151.9 2929 152.4 2932.9 153.3C2936.9 154.2 2941 204.7 2945 204.7C2949 204.7 2953 153.8 2957 153.8C2961.2 153.8 2965.3 155.1 2969.5 156.1C2973.7 157.2 2977.9 160.9 2982.1 160.9C2986.1 160.9 2990.1 151.3 2994.1 151.3C2998.1 151.3 3002.2 152.5 3006.2 154.2C3010.3 155.9 3014.3 178.2 3018.4 178.2C3022.6 178.2 3026.8 155.5 3031 154.6C3034.9 153.8 3038.9 153.3 3042.9 153.3C3047.1 153.3 3051.3 153.3 3055.5 153.3C3059.7 153.3 3063.9 173.4 3068.1 173.4C3072.1 173.4 3076 153.8 3080 153.8C3084.1 153.8 3088.1 156.5 3092.2 156.5C3096.4 156.5 3100.6 156.3 3104.8 156.1C3109 155.9 3113.1 155.2 3117.3 154.6C3121.3 154 3125.2 153.1 3129.1 152.3L3129.1 156.1C3125.2 157 3121.3 158 3117.3 158.7C3113.1 159.3 3109 160.1 3104.8 160.3C3100.6 160.6 3096.4 160.7 3092.2 160.7C3088.1 160.7 3084.1 157.8 3080 157.8C3076 157.8 3072.1 179.2 3068.1 179.2C3063.9 179.2 3059.7 157.2 3055.5 157.2C3051.3 157.2 3047.1 157.2 3042.9 157.2C3038.9 157.2 3034.9 157.7 3031 158.7C3026.8 159.6 3022.6 184.4 3018.4 184.4C3014.3 184.4 3010.3 160.1 3006.2 158.2C3002.2 156.4 2998.1 155.1 2994.1 155.1C2990.1 155.1 2986.1 165.6 2982.1 165.6C2977.9 165.6 2973.7 161.5 2969.5 160.3C2965.3 159.2 2961.2 157.8 2957 157.8C2953 157.8 2949 213.4 2945 213.4C2941 213.4 2936.9 158.2 2932.9 157.2C2929 156.2 2925.2 155.7 2921.3 155.7C2917.1 155.7 2912.9 158.2 2908.7 158.2C2904.5 158.2 2900.4 157.6 2896.2 157.6C2892 157.6 2887.8 157.9 2883.6 158.2C2879.7 158.5 2875.9 159.9 2872.1 159.9C2867.9 159.9 2863.7 157.8 2859.5 157.8C2855.3 157.8 2851.1 159.3 2846.9 159.3C2842.7 159.3 2838.5 158.2 2834.3 158.2C2830.3 158.2 2826.2 178.6 2822.2 178.6C2817.8 178.6 2813.5 157.9 2809.2 157.2C2805.3 156.5 2801.5 156.1 2797.6 156.1C2793.4 156.1 2789.2 157.2 2785.1 157.6C2780.9 158 2776.7 158.7 2772.5 158.7C2768.3 158.7 2764.1 157.2 2759.9 157.2C2756.1 157.2 2752.2 160.3 2748.4 160.3C2744.2 160.3 2740 157.2 2735.8 157.2C2731.6 157.2 2727.4 159.3 2723.2 159.3C2719.2 159.3 2715.1 158.2 2711 158.2C2707.1 158.2 2703.1 212.3 2699.1 212.3C2694.9 212.3 2690.7 156.1 2686.5 156.1C2682.3 156.1 2678.1 158.8 2673.9 159.9C2670.1 161 2666.3 162.8 2662.4 162.8C2658.2 162.8 2654 159.1 2649.8 158.2C2645.6 157.4 2641.4 156.6 2637.3 156.6C2633 156.6 2628.8 158.7 2624.6 158.7C2620.4 158.7 2616.2 156.6 2612 156.6C2607.8 156.6 2603.6 160.7 2599.4 160.7C2595.4 160.7 2591.3 158.2 2587.3 158.2C2583.1 158.2 2578.9 178.6 2574.7 178.6C2570.7 178.6 2566.7 156.1 2562.7 156.1C2558.6 156.1 2554.4 156.8 2550.2 157.2C2546 157.5 2541.8 157.9 2537.6 158.2C2533.4 158.6 2529.2 159.3 2525 159.3C2521.2 159.3 2517.3 157.8 2513.5 157.8C2509.3 157.8 2505.1 158.7 2500.9 158.7C2497.1 158.7 2493.2 156.6 2489.4 156.6C2485.2 156.6 2481 157.9 2476.8 159.9C2472.6 161.9 2468.4 193.5 2464.2 193.5C2460 193.5 2455.8 183.4 2451.6 177.1C2447.7 171.1 2443.7 155.7 2439.7 155.7C2435.6 155.7 2431.6 158.7 2427.5 158.7C2423.7 158.7 2419.8 157.8 2416 157.8C2411.8 157.8 2407.6 157.8 2403.4 157.8C2399.2 157.8 2395 162 2390.8 162C2386.9 162 2382.9 156.6 2378.9 156.6C2374.8 156.6 2370.8 162 2366.7 162C2362.5 162 2358.3 161.1 2354.2 160.3C2350 159.5 2345.8 156.1 2341.6 156.1C2337.4 156.1 2333.2 182.3 2329 182.3C2324.8 182.3 2320.6 161.7 2316.4 160.3C2312.6 159.1 2308.7 158.7 2304.9 158.2C2300.7 157.8 2296.5 157.2 2292.3 157.2C2288.1 157.2 2283.9 164.9 2279.7 164.9C2275.9 164.9 2272 163.2 2268.2 162.4C2264 161.5 2259.8 160.9 2255.6 159.9C2251.6 159 2247.5 156.6 2243.5 156.6C2239.3 156.6 2235.1 196.4 2230.9 196.4C2226.7 196.4 2222.5 158.7 2218.3 158.7C2214 158.7 2209.6 178.6 2205.3 178.6C2201.1 178.6 2196.9 157.8 2192.7 157.8C2188.5 157.8 2184.3 157.8 2180.1 157.8C2176.3 157.8 2172.5 160.7 2168.6 160.7C2164.8 160.7 2160.9 160.3 2157.1 159.9C2152.9 159.5 2148.7 157.2 2144.5 157.2C2140.3 157.2 2136.1 158.2 2131.9 158.2C2128.4 158.2 2124.9 157.8 2121.4 157.8C2118 157.8 2114.5 158.7 2111 158.7C2107.3 158.7 2103.7 158.7 2100.1 158.7Z" fill="#B877D9" fill-opacity="0.95"/>
<path d="M2100.1 158.7C2103.7 158.7 2107.3 158.7 2111 158.7C2114.5 158.7 2118 157.8 2121.4 157.8C2124.9 157.8 2128.4 158.2 2131.9 158.2C2136.1 158.2 2140.3 157.2 2144.5 157.2C2148.7 157.2 2152.9 159.5 2157.1 159.9C2160.9 160.3 2164.8 160.7 2168.6 160.7C2172.5 160.7 2176.3 157.8 2180.1 157.8C2184.3 157.8 2188.5 157.8 2192.7 157.8C2196.9 157.8 2201.1 178.6 2205.3 178.6C2209.6 178.6 2214 158.7 2218.3 158.7C2222.5 158.7 2226.7 196.4 2230.9 196.4C2235.1 196.4 2239.3 156.6 2243.5 156.6C2247.5 156.6 2251.6 159 2255.6 159.9C2259.8 160.9 2264 161.5 2268.2 162.4C2272 163.2 2275.9 164.9 2279.7 164.9C2283.9 164.9 2288.1 157.2 2292.3 157.2C2296.5 157.2 2300.7 157.8 2304.9 158.2C2308.7 158.7 2312.6 159.1 2316.4 160.3C2320.6 161.7 2324.8 182.3 2329 182.3C2333.2 182.3 2337.4 156.1 2341.6 156.1C2345.8 156.1 2350 159.5 2354.2 160.3C2358.3 161.1 2362.5 162 2366.7 162C2370.8 162 2374.8 156.6 2378.9 156.6C2382.9 156.6 2386.9 162 2390.8 162C2395 162 2399.2 157.8 2403.4 157.8C2407.6 157.8 2411.8 157.8 2416 157.8C2419.8 157.8 2423.7 158.7 2427.5 158.7C2431.6 158.7 2435.6 155.7 2439.7 155.7C2443.7 155.7 2447.7 171.1 2451.6 177.1C2455.8 183.4 2460 193.5 2464.2 193.5C2468.4 193.5 2472.6 161.9 2476.8 159.9C2481 157.9 2485.2 156.6 2489.4 156.6C2493.2 156.6 2497.1 158.7 2500.9 158.7C2505.1 158.7 2509.3 157.8 2513.5 157.8C2517.3 157.8 2521.2 159.3 2525 159.3C2529.2 159.3 2533.4 158.6 2537.6 158.2C2541.8 157.9 2546 157.5 2550.2 157.2C2554.4 156.8 2558.6 156.1 2562.7 156.1C2566.7 156.1 2570.7 178.6 2574.7 178.6C2578.9 178.6 2583.1 158.2 2587.3 158.2C2591.3 158.2 2595.4 160.7 2599.4 160.7C2603.6 160.7 2607.8 156.6 2612 156.6C2616.2 156.6 2620.4 158.7 2624.6 158.7C2628.8 158.7 2633 156.6 2637.3 156.6C2641.4 156.6 2645.6 157.4 2649.8 158.2C2654 159.1 2658.2 162.8 2662.4 162.8C2666.3 162.8 2670.1 161 2673.9 159.9C2678.1 158.8 2682.3 156.1 2686.5 156.1C2690.7 156.1 2694.9 212.3 2699.1 212.3C2703.1 212.3 2707.1 158.2 2711 158.2C2715.1 158.2 2719.2 159.3 2723.2 159.3C2727.4 159.3 2731.6 157.2 2735.8 157.2C2740 157.2 2744.2 160.3 2748.4 160.3C2752.2 160.3 2756.1 157.2 2759.9 157.2C2764.1 157.2 2768.3 158.7 2772.5 158.7C2776.7 158.7 2780.9 158 2785.1 157.6C2789.2 157.2 2793.4 156.1 2797.6 156.1C2801.5 156.1 2805.3 156.5 2809.2 157.2C2813.5 157.9 2817.8 178.6 2822.2 178.6C2826.2 178.6 2830.3 158.2 2834.3 158.2C2838.5 158.2 2842.7 159.3 2846.9 159.3C2851.1 159.3 2855.3 157.8 2859.5 157.8C2863.7 157.8 2867.9 159.9 2872.1 159.9C2875.9 159.9 2879.7 158.5 2883.6 158.2C2887.8 157.9 2892 157.6 2896.2 157.6C2900.4 157.6 2904.5 158.2 2908.7 158.2C2912.9 158.2 2917.1 155.7 2921.3 155.7C2925.2 155.7 2929 156.2 2932.9 157.2C2936.9 158.2 2941 213.4 2945 213.4C2949 213.4 2953 157.8 2957 157.8C2961.2 157.8 2965.3 159.2 2969.5 160.3C2973.7 161.5 2977.9 165.6 2982.1 165.6C2986.1 165.6 2990.1 155.1 2994.1 155.1C2998.1 155.1 3002.2 156.4 3006.2 158.2C3010.3 160.1 3014.3 184.4 3018.4 184.4C3022.6 184.4 3026.8 159.6 3031 158.7C3034.9 157.7 3038.9 157.2 3042.9 157.2C3047.1 157.2 3051.3 157.2 3055.5 157.2C3059.7 157.2 3063.9 179.2 3068.1 179.2C3072.1 179.2 3076 157.8 3080 157.8C3084.1 157.8 3088.1 160.7 3092.2 160.7C3096.4 160.7 3100.6 160.6 3104.8 160.3C3109 160.1 3113.1 159.3 3117.3 158.7C3121.3 158 3125.2 157 3129.1 156.1L3129.1 157.6C3125.2 158.5 3121.3 159.5 3117.3 160.2C3113.1 160.8 3109 161.6 3104.8 161.8C3100.6 162.1 3096.4 162.2 3092.2 162.2C3088.1 162.2 3084.1 159.3 3080 159.3C3076 159.3 3072.1 180.7 3068.1 180.7C3063.9 180.7 3059.7 158.7 3055.5 158.7C3051.3 158.7 3047.1 158.7 3042.9 158.7C3038.9 158.7 3034.9 159.2 3031 160.2C3026.8 161.1 3022.6 185.9 3018.4 185.9C3014.3 185.9 3010.3 161.6 3006.2 159.7C3002.2 157.9 2998.1 156.6 2994.1 156.6C2990.1 156.6 2986.1 167.1 2982.1 167.1C2977.9 167.1 2973.7 163 2969.5 161.8C2965.3 160.7 2961.2 159.3 2957 159.3C2953 159.3 2949 214.9 2945 214.9C2941 214.9 2936.9 159.7 2932.9 158.7C2929 157.7 2925.2 157.2 2921.3 157.2C2917.1 157.2 2912.9 159.7 2908.7 159.7C2904.5 159.7 2900.4 159.1 2896.2 159.1C2892 159.1 2887.8 159.4 2883.6 159.7C2879.7 160 2875.9 161.4 2872.1 161.4C2867.9 161.4 2863.7 159.3 2859.5 159.3C2855.3 159.3 2851.1 160.8 2846.9 160.8C2842.7 160.8 2838.5 159.7 2834.3 159.7C2830.3 159.7 2826.2 180.1 2822.2 180.1C2817.8 180.1 2813.5 159.4 2809.2 158.7C2805.3 158 2801.5 157.6 2797.6 157.6C2793.4 157.6 2789.2 158.7 2785.1 159.1C2780.9 159.5 2776.7 160.2 2772.5 160.2C2768.3 160.2 2764.1 158.7 2759.9 158.7C2756.1 158.7 2752.2 161.8 2748.4 161.8C2744.2 161.8 2740 158.7 2735.8 158.7C2731.6 158.7 2727.4 160.8 2723.2 160.8C2719.2 160.8 2715.1 159.7 2711 159.7C2707.1 159.7 2703.1 213.8 2699.1 213.8C2694.9 213.8 2690.7 157.6 2686.5 157.6C2682.3 157.6 2678.1 160.3 2673.9 161.4C2670.1 162.5 2666.3 164.3 2662.4 164.3C2658.2 164.3 2654 160.6 2649.8 159.7C2645.6 158.9 2641.4 158.1 2637.3 158.1C2633 158.1 2628.8 160.2 2624.6 160.2C2620.4 160.2 2616.2 158.1 2612 158.1C2607.8 158.1 2603.6 162.2 2599.4 162.2C2595.4 162.2 2591.3 159.7 2587.3 159.7C2583.1 159.7 2578.9 180.1 2574.7 180.1C2570.7 180.1 2566.7 157.6 2562.7 157.6C2558.6 157.6 2554.4 158.3 2550.2 158.7C2546 159 2541.8 159.4 2537.6 159.7C2533.4 160.1 2529.2 160.8 2525 160.8C2521.2 160.8 2517.3 159.3 2513.5 159.3C2509.3 159.3 2505.1 160.2 2500.9 160.2C2497.1 160.2 2493.2 158.1 2489.4 158.1C2485.2 158.1 2481 159.4 2476.8 161.4C2472.6 163.4 2468.4 195 2464.2 195C2460 195 2455.8 184.9 2451.6 178.6C2447.7 172.6 2443.7 157.2 2439.7 157.2C2435.6 157.2 2431.6 160.2 2427.5 160.2C2423.7 160.2 2419.8 159.3 2416 159.3C2411.8 159.3 2407.6 159.3 2403.4 159.3C2399.2 159.3 2395 163.5 2390.8 163.5C2386.9 163.5 2382.9 158.1 2378.9 158.1C2374.8 158.1 2370.8 163.5 2366.7 163.5C2362.5 163.5 2358.3 162.6 2354.2 161.8C2350 161 2345.8 157.6 2341.6 157.6C2337.4 157.6 2333.2 183.8 2329 183.8C2324.8 183.8 2320.6 163.2 2316.4 161.8C2312.6 160.6 2308.7 160.2 2304.9 159.7C2300.7 159.3 2296.5 158.7 2292.3 158.7C2288.1 158.7 2283.9 166.4 2279.7 166.4C2275.9 166.4 2272 164.7 2268.2 163.9C2264 163 2259.8 162.4 2255.6 161.4C2251.6 160.5 2247.5 158.1 2243.5 158.1C2239.3 158.1 2235.1 197.9 2230.9 197.9C2226.7 197.9 2222.5 160.2 2218.3 160.2C2214 160.2 2209.6 180.1 2205.3 180.1C2201.1 180.1 2196.9 159.3 2192.7 159.3C2188.5 159.3 2184.3 159.3 2180.1 159.3C2176.3 159.3 2172.5 162.2 2168.6 162.2C2164.8 162.2 2160.9 161.8 2157.1 161.4C2152.9 161 2148.7 158.7 2144.5 158.7C2140.3 158.7 2136.1 159.7 2131.9 159.7C2128.4 159.7 2124.9 159.3 2121.4 159.3C2118 159.3 2114.5 160.2 2111 160.2C2107.3 160.2 2103.7 160.2 2100.1 160.2Z" fill="#7aa6ef"/>
<path d="M2100.1 160.2C2103.7 160.2 2107.3 160.2 2111 160.2C2114.5 160.2 2118 159.3 2121.4 159.3C2124.9 159.3 2128.4 159.7 2131.9 159.7C2136.1 159.7 2140.3 158.7 2144.5 158.7C2148.7 158.7 2152.9 161 2157.1 161.4C2160.9 161.8 2164.8 162.2 2168.6 162.2C2172.5 162.2 2176.3 159.3 2180.1 159.3C2184.3 159.3 2188.5 159.3 2192.7 159.3C2196.9 159.3 2201.1 180.1 2205.3 180.1C2209.6 180.1 2214 160.2 2218.3 160.2C2222.5 160.2 2226.7 197.9 2230.9 197.9C2235.1 197.9 2239.3 158.1 2243.5 158.1C2247.5 158.1 2251.6 160.5 2255.6 161.4C2259.8 162.4 2264 163 2268.2 163.9C2272 164.7 2275.9 166.4 2279.7 166.4C2283.9 166.4 2288.1 158.7 2292.3 158.7C2296.5 158.7 2300.7 159.3 2304.9 159.7C2308.7 160.2 2312.6 160.6 2316.4 161.8C2320.6 163.2 2324.8 183.8 2329 183.8C2333.2 183.8 2337.4 157.6 2341.6 157.6C2345.8 157.6 2350 161 2354.2 161.8C2358.3 162.6 2362.5 163.5 2366.7 163.5C2370.8 163.5 2374.8 158.1 2378.9 158.1C2382.9 158.1 2386.9 163.5 2390.8 163.5C2395 163.5 2399.2 159.3 2403.4 159.3C2407.6 159.3 2411.8 159.3 2416 159.3C2419.8 159.3 2423.7 160.2 2427.5 160.2C2431.6 160.2 2435.6 157.2 2439.7 157.2C2443.7 157.2 2447.7 172.6 2451.6 178.6C2455.8 184.9 2460 195 2464.2 195C2468.4 195 2472.6 163.4 2476.8 161.4C2481 159.4 2485.2 158.1 2489.4 158.1C2493.2 158.1 2497.1 160.2 2500.9 160.2C2505.1 160.2 2509.3 159.3 2513.5 159.3C2517.3 159.3 2521.2 160.8 2525 160.8C2529.2 160.8 2533.4 160.1 2537.6 159.7C2541.8 159.4 2546 159 2550.2 158.7C2554.4 158.3 2558.6 157.6 2562.7 157.6C2566.7 157.6 2570.7 180.1 2574.7 180.1C2578.9 180.1 2583.1 159.7 2587.3 159.7C2591.3 159.7 2595.4 162.2 2599.4 162.2C2603.6 162.2 2607.8 158.1 2612 158.1C2616.2 158.1 2620.4 160.2 2624.6 160.2C2628.8 160.2 2633 158.1 2637.3 158.1C2641.4 158.1 2645.6 158.9 2649.8 159.7C2654 160.6 2658.2 164.3 2662.4 164.3C2666.3 164.3 2670.1 162.5 2673.9 161.4C2678.1 160.3 2682.3 157.6 2686.5 157.6C2690.7 157.6 2694.9 213.8 2699.1 213.8C2703.1 213.8 2707.1 159.7 2711 159.7C2715.1 159.7 2719.2 160.8 2723.2 160.8C2727.4 160.8 2731.6 158.7 2735.8 158.7C2740 158.7 2744.2 161.8 2748.4 161.8C2752.2 161.8 2756.1 158.7 2759.9 158.7C2764.1 158.7 2768.3 160.2 2772.5 160.2C2776.7 160.2 2780.9 159.5 2785.1 159.1C2789.2 158.7 2793.4 157.6 2797.6 157.6C2801.5 157.6 2805.3 158 2809.2 158.7C2813.5 159.4 2817.8 180.1 2822.2 180.1C2826.2 180.1 2830.3 159.7 2834.3 159.7C2838.5 159.7 2842.7 160.8 2846.9 160.8C2851.1 160.8 2855.3 159.3 2859.5 159.3C2863.7 159.3 2867.9 161.4 2872.1 161.4C2875.9 161.4 2879.7 160 2883.6 159.7C2887.8 159.4 2892 159.1 2896.2 159.1C2900.4 159.1 2904.5 159.7 2908.7 159.7C2912.9 159.7 2917.1 157.2 2921.3 157.2C2925.2 157.2 2929 157.7 2932.9 158.7C2936.9 159.7 2941 214.9 2945 214.9C2949 214.9 2953 159.3 2957 159.3C2961.2 159.3 2965.3 160.7 2969.5 161.8C2973.7 163 2977.9 167.1 2982.1 167.1C2986.1 167.1 2990.1 156.6 2994.1 156.6C2998.1 156.6 3002.2 157.9 3006.2 159.7C3010.3 161.6 3014.3 185.9 3018.4 185.9C3022.6 185.9 3026.8 161.1 3031 160.2C3034.9 159.2 3038.9 158.7 3042.9 158.7C3047.1 158.7 3051.3 158.7 3055.5 158.7C3059.7 158.7 3063.9 180.7 3068.1 180.7C3072.1 180.7 3076 159.3 3080 159.3C3084.1 159.3 3088.1 162.2 3092.2 162.2C3096.4 162.2 3100.6 162.1 3104.8 161.8C3109 161.6 3113.1 160.8 3117.3 160.2C3121.3 159.5 3125.2 158.5 3129.1 157.6L3129.1 158.5C3125.2 159.4 3121.3 160.4 3117.3 161.1C3113.1 161.7 3109 162.5 3104.8 162.7C3100.6 163 3096.4 163.1 3092.2 163.1C3088.1 163.1 3084.1 160.2 3080 160.2C3076 160.2 3072.1 181.6 3068.1 181.6C3063.9 181.6 3059.7 159.6 3055.5 159.6C3051.3 159.6 3047.1 159.6 3042.9 159.6C3038.9 159.6 3034.9 160.1 3031 161.1C3026.8 162 3022.6 186.8 3018.4 186.8C3014.3 186.8 3010.3 162.5 3006.2 160.6C3002.2 158.8 2998.1 157.5 2994.1 157.5C2990.1 157.5 2986.1 168 2982.1 168C2977.9 168 2973.7 163.9 2969.5 162.7C2965.3 161.6 2961.2 160.2 2957 160.2C2953 160.2 2949 215.8 2945 215.8C2941 215.8 2936.9 160.6 2932.9 159.6C2929 158.6 2925.2 158.1 2921.3 158.1C2917.1 158.1 2912.9 160.6 2908.7 160.6C2904.5 160.6 2900.4 160 2896.2 160C2892 160 2887.8 160.3 2883.6 160.6C2879.7 160.9 2875.9 162.3 2872.1 162.3C2867.9 162.3 2863.7 160.2 2859.5 160.2C2855.3 160.2 2851.1 161.7 2846.9 161.7C2842.7 161.7 2838.5 160.6 2834.3 160.6C2830.3 160.6 2826.2 181 2822.2 181C2817.8 181 2813.5 160.3 2809.2 159.6C2805.3 158.9 2801.5 158.5 2797.6 158.5C2793.4 158.5 2789.2 159.6 2785.1 160C2780.9 160.4 2776.7 161.1 2772.5 161.1C2768.3 161.1 2764.1 159.6 2759.9 159.6C2756.1 159.6 2752.2 162.7 2748.4 162.7C2744.2 162.7 2740 159.6 2735.8 159.6C2731.6 159.6 2727.4 161.7 2723.2 161.7C2719.2 161.7 2715.1 160.6 2711 160.6C2707.1 160.6 2703.1 214.7 2699.1 214.7C2694.9 214.7 2690.7 158.5 2686.5 158.5C2682.3 158.5 2678.1 161.2 2673.9 162.3C2670.1 163.4 2666.3 165.2 2662.4 165.2C2658.2 165.2 2654 161.5 2649.8 160.6C2645.6 159.8 2641.4 159 2637.3 159C2633 159 2628.8 161.1 2624.6 161.1C2620.4 161.1 2616.2 159 2612 159C2607.8 159 2603.6 163.1 2599.4 163.1C2595.4 163.1 2591.3 160.6 2587.3 160.6C2583.1 160.6 2578.9 181 2574.7 181C2570.7 181 2566.7 158.5 2562.7 158.5C2558.6 158.5 2554.4 159.2 2550.2 159.6C2546 159.9 2541.8 160.3 2537.6 160.6C2533.4 161 2529.2 161.7 2525 161.7C2521.2 161.7 2517.3 160.2 2513.5 160.2C2509.3 160.2 2505.1 161.1 2500.9 161.1C2497.1 161.1 2493.2 159 2489.4 159C2485.2 159 2481 160.3 2476.8 162.3C2472.6 164.3 2468.4 195.9 2464.2 195.9C2460 195.9 2455.8 185.8 2451.6 179.5C2447.7 173.5 2443.7 158.1 2439.7 158.1C2435.6 158.1 2431.6 161.1 2427.5 161.1C2423.7 161.1 2419.8 160.2 2416 160.2C2411.8 160.2 2407.6 160.2 2403.4 160.2C2399.2 160.2 2395 164.4 2390.8 164.4C2386.9 164.4 2382.9 159 2378.9 159C2374.8 159 2370.8 164.4 2366.7 164.4C2362.5 164.4 2358.3 163.5 2354.2 162.7C2350 161.9 2345.8 158.5 2341.6 158.5C2337.4 158.5 2333.2 184.7 2329 184.7C2324.8 184.7 2320.6 164.1 2316.4 162.7C2312.6 161.5 2308.7 161.1 2304.9 160.6C2300.7 160.2 2296.5 159.6 2292.3 159.6C2288.1 159.6 2283.9 167.3 2279.7 167.3C2275.9 167.3 2272 165.6 2268.2 164.8C2264 163.9 2259.8 163.3 2255.6 162.3C2251.6 161.4 2247.5 159 2243.5 159C2239.3 159 2235.1 198.8 2230.9 198.8C2226.7 198.8 2222.5 161.1 2218.3 161.1C2214 161.1 2209.6 181 2205.3 181C2201.1 181 2196.9 160.2 2192.7 160.2C2188.5 160.2 2184.3 160.2 2180.1 160.2C2176.3 160.2 2172.5 163.1 2168.6 163.1C2164.8 163.1 2160.9 162.7 2157.1 162.3C2152.9 161.9 2148.7 159.6 2144.5 159.6C2140.3 159.6 2136.1 160.6 2131.9 160.6C2128.4 160.6 2124.9 160.2 2121.4 160.2C2118 160.2 2114.5 161.1 2111 161.1C2107.3 161.1 2103.7 161.1 2100.1 161.1Z" fill="#e07a30"/>
<path d="M2100.1 161.1C2103.7 161.1 2107.3 161.1 2111 161.1C2114.5 161.1 2118 160.2 2121.4 160.2C2124.9 160.2 2128.4 160.6 2131.9 160.6C2136.1 160.6 2140.3 159.6 2144.5 159.6C2148.7 159.6 2152.9 161.9 2157.1 162.3C2160.9 162.7 2164.8 163.1 2168.6 163.1C2172.5 163.1 2176.3 160.2 2180.1 160.2C2184.3 160.2 2188.5 160.2 2192.7 160.2C2196.9 160.2 2201.1 181 2205.3 181C2209.6 181 2214 161.1 2218.3 161.1C2222.5 161.1 2226.7 198.8 2230.9 198.8C2235.1 198.8 2239.3 159 2243.5 159C2247.5 159 2251.6 161.4 2255.6 162.3C2259.8 163.3 2264 163.9 2268.2 164.8C2272 165.6 2275.9 167.3 2279.7 167.3C2283.9 167.3 2288.1 159.6 2292.3 159.6C2296.5 159.6 2300.7 160.2 2304.9 160.6C2308.7 161.1 2312.6 161.5 2316.4 162.7C2320.6 164.1 2324.8 184.7 2329 184.7C2333.2 184.7 2337.4 158.5 2341.6 158.5C2345.8 158.5 2350 161.9 2354.2 162.7C2358.3 163.5 2362.5 164.4 2366.7 164.4C2370.8 164.4 2374.8 159 2378.9 159C2382.9 159 2386.9 164.4 2390.8 164.4C2395 164.4 2399.2 160.2 2403.4 160.2C2407.6 160.2 2411.8 160.2 2416 160.2C2419.8 160.2 2423.7 161.1 2427.5 161.1C2431.6 161.1 2435.6 158.1 2439.7 158.1C2443.7 158.1 2447.7 173.5 2451.6 179.5C2455.8 185.8 2460 195.9 2464.2 195.9C2468.4 195.9 2472.6 164.3 2476.8 162.3C2481 160.3 2485.2 159 2489.4 159C2493.2 159 2497.1 161.1 2500.9 161.1C2505.1 161.1 2509.3 160.2 2513.5 160.2C2517.3 160.2 2521.2 161.7 2525 161.7C2529.2 161.7 2533.4 161 2537.6 160.6C2541.8 160.3 2546 159.9 2550.2 159.6C2554.4 159.2 2558.6 158.5 2562.7 158.5C2566.7 158.5 2570.7 181 2574.7 181C2578.9 181 2583.1 160.6 2587.3 160.6C2591.3 160.6 2595.4 163.1 2599.4 163.1C2603.6 163.1 2607.8 159 2612 159C2616.2 159 2620.4 161.1 2624.6 161.1C2628.8 161.1 2633 159 2637.3 159C2641.4 159 2645.6 159.8 2649.8 160.6C2654 161.5 2658.2 165.2 2662.4 165.2C2666.3 165.2 2670.1 163.4 2673.9 162.3C2678.1 161.2 2682.3 158.5 2686.5 158.5C2690.7 158.5 2694.9 214.7 2699.1 214.7C2703.1 214.7 2707.1 160.6 2711 160.6C2715.1 160.6 2719.2 161.7 2723.2 161.7C2727.4 161.7 2731.6 159.6 2735.8 159.6C2740 159.6 2744.2 162.7 2748.4 162.7C2752.2 162.7 2756.1 159.6 2759.9 159.6C2764.1 159.6 2768.3 161.1 2772.5 161.1C2776.7 161.1 2780.9 160.4 2785.1 160C2789.2 159.6 2793.4 158.5 2797.6 158.5C2801.5 158.5 2805.3 158.9 2809.2 159.6C2813.5 160.3 2817.8 181 2822.2 181C2826.2 181 2830.3 160.6 2834.3 160.6C2838.5 160.6 2842.7 161.7 2846.9 161.7C2851.1 161.7 2855.3 160.2 2859.5 160.2C2863.7 160.2 2867.9 162.3 2872.1 162.3C2875.9 162.3 2879.7 160.9 2883.6 160.6C2887.8 160.3 2892 160 2896.2 160C2900.4 160 2904.5 160.6 2908.7 160.6C2912.9 160.6 2917.1 158.1 2921.3 158.1C2925.2 158.1 2929 158.6 2932.9 159.6C2936.9 160.6 2941 215.8 2945 215.8C2949 215.8 2953 160.2 2957 160.2C2961.2 160.2 2965.3 161.6 2969.5 162.7C2973.7 163.9 2977.9 168 2982.1 168C2986.1 168 2990.1 157.5 2994.1 157.5C2998.1 157.5 3002.2 158.8 3006.2 160.6C3010.3 162.5 3014.3 186.8 3018.4 186.8C3022.6 186.8 3026.8 162 3031 161.1C3034.9 160.1 3038.9 159.6 3042.9 159.6C3047.1 159.6 3051.3 159.6 3055.5 159.6C3059.7 159.6 3063.9 181.6 3068.1 181.6C3072.1 181.6 3076 160.2 3080 160.2C3084.1 160.2 3088.1 163.1 3092.2 163.1C3096.4 163.1 3100.6 163 3104.8 162.7C3109 162.5 3113.1 161.7 3117.3 161.1C3121.3 160.4 3125.2 159.4 3129.1 158.5L3129.1 364.5L2100.1 364.5Z" fill="url(#gi)"/>
<path d="M2100.1 154.6C2103.7 154.6 2107.3 154.6 2111 154.6C2114.5 154.6 2118 153.8 2121.4 153.8C2124.9 153.8 2128.4 154.2 2131.9 154.2C2136.1 154.2 2140.3 153.3 2144.5 153.3C2148.7 153.3 2152.9 155.3 2157.1 155.8C2160.9 156.1 2164.8 156.5 2168.6 156.5C2172.5 156.5 2176.3 153.8 2180.1 153.8C2184.3 153.8 2188.5 153.8 2192.7 153.8C2196.9 153.8 2201.1 172.8 2205.3 172.8C2209.6 172.8 2214 154.6 2218.3 154.6C2222.5 154.6 2226.7 189.1 2230.9 189.1C2235.1 189.1 2239.3 152.7 2243.5 152.7C2247.5 152.7 2251.6 154.9 2255.6 155.8C2259.8 156.6 2264 157.3 2268.2 158.1C2272 158.8 2275.9 160.4 2279.7 160.4C2283.9 160.4 2288.1 153.3 2292.3 153.3C2296.5 153.3 2300.7 153.8 2304.9 154.2C2308.7 154.6 2312.6 155 2316.4 156.1C2320.6 157.4 2324.8 176.3 2329 176.3C2333.2 176.3 2337.4 152.3 2341.6 152.3C2345.8 152.3 2350 155.4 2354.2 156.1C2358.3 156.9 2362.5 157.7 2366.7 157.7C2370.8 157.7 2374.8 152.7 2378.9 152.7C2382.9 152.7 2386.9 157.7 2390.8 157.7C2395 157.7 2399.2 153.8 2403.4 153.8C2407.6 153.8 2411.8 153.8 2416 153.8C2419.8 153.8 2423.7 154.6 2427.5 154.6C2431.6 154.6 2435.6 151.9 2439.7 151.9C2443.7 151.9 2447.7 166 2451.6 171.5C2455.8 177.3 2460 186.4 2464.2 186.4C2468.4 186.4 2472.6 157.6 2476.8 155.8C2481 153.9 2485.2 152.7 2489.4 152.7C2493.2 152.7 2497.1 154.6 2500.9 154.6C2505.1 154.6 2509.3 153.8 2513.5 153.8C2517.3 153.8 2521.2 155.2 2525 155.2C2529.2 155.2 2533.4 154.5 2537.6 154.2C2541.8 153.9 2546 153.6 2550.2 153.3C2554.4 152.9 2558.6 152.3 2562.7 152.3C2566.7 152.3 2570.7 172.8 2574.7 172.8C2578.9 172.8 2583.1 154.2 2587.3 154.2C2591.3 154.2 2595.4 156.5 2599.4 156.5C2603.6 156.5 2607.8 152.7 2612 152.7C2616.2 152.7 2620.4 154.6 2624.6 154.6C2628.8 154.6 2633 152.7 2637.3 152.7C2641.4 152.7 2645.6 153.5 2649.8 154.2C2654 155 2658.2 158.4 2662.4 158.4C2666.3 158.4 2670.1 156.7 2673.9 155.8C2678.1 154.7 2682.3 152.3 2686.5 152.3C2690.7 152.3 2694.9 203.7 2699.1 203.7C2703.1 203.7 2707.1 154.2 2711 154.2C2715.1 154.2 2719.2 155.2 2723.2 155.2C2727.4 155.2 2731.6 153.3 2735.8 153.3C2740 153.3 2744.2 156.1 2748.4 156.1C2752.2 156.1 2756.1 153.3 2759.9 153.3C2764.1 153.3 2768.3 154.6 2772.5 154.6C2776.7 154.6 2780.9 154 2785.1 153.6C2789.2 153.3 2793.4 152.3 2797.6 152.3C2801.5 152.3 2805.3 152.7 2809.2 153.3C2813.5 153.9 2817.8 172.8 2822.2 172.8C2826.2 172.8 2830.3 154.2 2834.3 154.2C2838.5 154.2 2842.7 155.2 2846.9 155.2C2851.1 155.2 2855.3 153.8 2859.5 153.8C2863.7 153.8 2867.9 155.8 2872.1 155.8C2875.9 155.8 2879.7 154.5 2883.6 154.2C2887.8 153.9 2892 153.6 2896.2 153.6C2900.4 153.6 2904.5 154.2 2908.7 154.2C2912.9 154.2 2917.1 151.9 2921.3 151.9C2925.2 151.9 2929 152.4 2932.9 153.3C2936.9 154.2 2941 204.7 2945 204.7C2949 204.7 2953 153.8 2957 153.8C2961.2 153.8 2965.3 155.1 2969.5 156.1C2973.7 157.2 2977.9 160.9 2982.1 160.9C2986.1 160.9 2990.1 151.3 2994.1 151.3C2998.1 151.3 3002.2 152.5 3006.2 154.2C3010.3 155.9 3014.3 178.2 3018.4 178.2C3022.6 178.2 3026.8 155.5 3031 154.6C3034.9 153.8 3038.9 153.3 3042.9 153.3C3047.1 153.3 3051.3 153.3 3055.5 153.3C3059.7 153.3 3063.9 173.4 3068.1 173.4C3072.1 173.4 3076 153.8 3080 153.8C3084.1 153.8 3088.1 156.5 3092.2 156.5C3096.4 156.5 3100.6 156.3 3104.8 156.1C3109 155.9 3113.1 155.2 3117.3 154.6C3121.3 154 3125.2 153.1 3129.1 152.3" fill="none" stroke="#B877D9" stroke-width="1.6"/>
<path d="M2100.1 159.4C2103.7 159.4 2107.3 159.4 2111 159.4C2114.5 159.4 2118 158.5 2121.4 158.5C2124.9 158.5 2128.4 158.9 2131.9 158.9C2136.1 158.9 2140.3 157.9 2144.5 157.9C2148.7 157.9 2152.9 160.2 2157.1 160.6C2160.9 161 2164.8 161.4 2168.6 161.4C2172.5 161.4 2176.3 158.5 2180.1 158.5C2184.3 158.5 2188.5 158.5 2192.7 158.5C2196.9 158.5 2201.1 179.3 2205.3 179.3C2209.6 179.3 2214 159.4 2218.3 159.4C2222.5 159.4 2226.7 197.1 2230.9 197.1C2235.1 197.1 2239.3 157.3 2243.5 157.3C2247.5 157.3 2251.6 159.7 2255.6 160.6C2259.8 161.6 2264 162.2 2268.2 163.1C2272 163.9 2275.9 165.6 2279.7 165.6C2283.9 165.6 2288.1 157.9 2292.3 157.9C2296.5 157.9 2300.7 158.5 2304.9 158.9C2308.7 159.4 2312.6 159.8 2316.4 161C2320.6 162.4 2324.8 183 2329 183C2333.2 183 2337.4 156.8 2341.6 156.8C2345.8 156.8 2350 160.2 2354.2 161C2358.3 161.8 2362.5 162.7 2366.7 162.7C2370.8 162.7 2374.8 157.3 2378.9 157.3C2382.9 157.3 2386.9 162.7 2390.8 162.7C2395 162.7 2399.2 158.5 2403.4 158.5C2407.6 158.5 2411.8 158.5 2416 158.5C2419.8 158.5 2423.7 159.4 2427.5 159.4C2431.6 159.4 2435.6 156.4 2439.7 156.4C2443.7 156.4 2447.7 171.8 2451.6 177.8C2455.8 184.1 2460 194.2 2464.2 194.2C2468.4 194.2 2472.6 162.6 2476.8 160.6C2481 158.6 2485.2 157.3 2489.4 157.3C2493.2 157.3 2497.1 159.4 2500.9 159.4C2505.1 159.4 2509.3 158.5 2513.5 158.5C2517.3 158.5 2521.2 160 2525 160C2529.2 160 2533.4 159.3 2537.6 158.9C2541.8 158.6 2546 158.2 2550.2 157.9C2554.4 157.5 2558.6 156.8 2562.7 156.8C2566.7 156.8 2570.7 179.3 2574.7 179.3C2578.9 179.3 2583.1 158.9 2587.3 158.9C2591.3 158.9 2595.4 161.4 2599.4 161.4C2603.6 161.4 2607.8 157.3 2612 157.3C2616.2 157.3 2620.4 159.4 2624.6 159.4C2628.8 159.4 2633 157.3 2637.3 157.3C2641.4 157.3 2645.6 158.1 2649.8 158.9C2654 159.8 2658.2 163.5 2662.4 163.5C2666.3 163.5 2670.1 161.7 2673.9 160.6C2678.1 159.5 2682.3 156.8 2686.5 156.8C2690.7 156.8 2694.9 213 2699.1 213C2703.1 213 2707.1 158.9 2711 158.9C2715.1 158.9 2719.2 160 2723.2 160C2727.4 160 2731.6 157.9 2735.8 157.9C2740 157.9 2744.2 161 2748.4 161C2752.2 161 2756.1 157.9 2759.9 157.9C2764.1 157.9 2768.3 159.4 2772.5 159.4C2776.7 159.4 2780.9 158.7 2785.1 158.3C2789.2 157.9 2793.4 156.8 2797.6 156.8C2801.5 156.8 2805.3 157.2 2809.2 157.9C2813.5 158.6 2817.8 179.3 2822.2 179.3C2826.2 179.3 2830.3 158.9 2834.3 158.9C2838.5 158.9 2842.7 160 2846.9 160C2851.1 160 2855.3 158.5 2859.5 158.5C2863.7 158.5 2867.9 160.6 2872.1 160.6C2875.9 160.6 2879.7 159.2 2883.6 158.9C2887.8 158.6 2892 158.3 2896.2 158.3C2900.4 158.3 2904.5 158.9 2908.7 158.9C2912.9 158.9 2917.1 156.4 2921.3 156.4C2925.2 156.4 2929 156.9 2932.9 157.9C2936.9 158.9 2941 214.1 2945 214.1C2949 214.1 2953 158.5 2957 158.5C2961.2 158.5 2965.3 159.9 2969.5 161C2973.7 162.2 2977.9 166.3 2982.1 166.3C2986.1 166.3 2990.1 155.8 2994.1 155.8C2998.1 155.8 3002.2 157.1 3006.2 158.9C3010.3 160.8 3014.3 185.1 3018.4 185.1C3022.6 185.1 3026.8 160.3 3031 159.4C3034.9 158.4 3038.9 157.9 3042.9 157.9C3047.1 157.9 3051.3 157.9 3055.5 157.9C3059.7 157.9 3063.9 179.9 3068.1 179.9C3072.1 179.9 3076 158.5 3080 158.5C3084.1 158.5 3088.1 161.4 3092.2 161.4C3096.4 161.4 3100.6 161.3 3104.8 161C3109 160.8 3113.1 160 3117.3 159.4C3121.3 158.7 3125.2 157.7 3129.1 156.8" fill="none" stroke="#7aa6ef" stroke-width="1.3"/>
<path d="M2100.1 160.7C2103.7 160.7 2107.3 160.7 2111 160.7C2114.5 160.7 2118 159.8 2121.4 159.8C2124.9 159.8 2128.4 160.2 2131.9 160.2C2136.1 160.2 2140.3 159.2 2144.5 159.2C2148.7 159.2 2152.9 161.5 2157.1 161.9C2160.9 162.3 2164.8 162.7 2168.6 162.7C2172.5 162.7 2176.3 159.8 2180.1 159.8C2184.3 159.8 2188.5 159.8 2192.7 159.8C2196.9 159.8 2201.1 180.6 2205.3 180.6C2209.6 180.6 2214 160.7 2218.3 160.7C2222.5 160.7 2226.7 198.4 2230.9 198.4C2235.1 198.4 2239.3 158.6 2243.5 158.6C2247.5 158.6 2251.6 161 2255.6 161.9C2259.8 162.9 2264 163.5 2268.2 164.4C2272 165.2 2275.9 166.9 2279.7 166.9C2283.9 166.9 2288.1 159.2 2292.3 159.2C2296.5 159.2 2300.7 159.8 2304.9 160.2C2308.7 160.7 2312.6 161.1 2316.4 162.3C2320.6 163.7 2324.8 184.3 2329 184.3C2333.2 184.3 2337.4 158.1 2341.6 158.1C2345.8 158.1 2350 161.5 2354.2 162.3C2358.3 163.1 2362.5 164 2366.7 164C2370.8 164 2374.8 158.6 2378.9 158.6C2382.9 158.6 2386.9 164 2390.8 164C2395 164 2399.2 159.8 2403.4 159.8C2407.6 159.8 2411.8 159.8 2416 159.8C2419.8 159.8 2423.7 160.7 2427.5 160.7C2431.6 160.7 2435.6 157.7 2439.7 157.7C2443.7 157.7 2447.7 173.1 2451.6 179.1C2455.8 185.4 2460 195.5 2464.2 195.5C2468.4 195.5 2472.6 163.9 2476.8 161.9C2481 159.9 2485.2 158.6 2489.4 158.6C2493.2 158.6 2497.1 160.7 2500.9 160.7C2505.1 160.7 2509.3 159.8 2513.5 159.8C2517.3 159.8 2521.2 161.3 2525 161.3C2529.2 161.3 2533.4 160.6 2537.6 160.2C2541.8 159.9 2546 159.5 2550.2 159.2C2554.4 158.8 2558.6 158.1 2562.7 158.1C2566.7 158.1 2570.7 180.6 2574.7 180.6C2578.9 180.6 2583.1 160.2 2587.3 160.2C2591.3 160.2 2595.4 162.7 2599.4 162.7C2603.6 162.7 2607.8 158.6 2612 158.6C2616.2 158.6 2620.4 160.7 2624.6 160.7C2628.8 160.7 2633 158.6 2637.3 158.6C2641.4 158.6 2645.6 159.4 2649.8 160.2C2654 161.1 2658.2 164.8 2662.4 164.8C2666.3 164.8 2670.1 163 2673.9 161.9C2678.1 160.8 2682.3 158.1 2686.5 158.1C2690.7 158.1 2694.9 214.3 2699.1 214.3C2703.1 214.3 2707.1 160.2 2711 160.2C2715.1 160.2 2719.2 161.3 2723.2 161.3C2727.4 161.3 2731.6 159.2 2735.8 159.2C2740 159.2 2744.2 162.3 2748.4 162.3C2752.2 162.3 2756.1 159.2 2759.9 159.2C2764.1 159.2 2768.3 160.7 2772.5 160.7C2776.7 160.7 2780.9 160 2785.1 159.6C2789.2 159.2 2793.4 158.1 2797.6 158.1C2801.5 158.1 2805.3 158.5 2809.2 159.2C2813.5 159.9 2817.8 180.6 2822.2 180.6C2826.2 180.6 2830.3 160.2 2834.3 160.2C2838.5 160.2 2842.7 161.3 2846.9 161.3C2851.1 161.3 2855.3 159.8 2859.5 159.8C2863.7 159.8 2867.9 161.9 2872.1 161.9C2875.9 161.9 2879.7 160.5 2883.6 160.2C2887.8 159.9 2892 159.6 2896.2 159.6C2900.4 159.6 2904.5 160.2 2908.7 160.2C2912.9 160.2 2917.1 157.7 2921.3 157.7C2925.2 157.7 2929 158.2 2932.9 159.2C2936.9 160.2 2941 215.4 2945 215.4C2949 215.4 2953 159.8 2957 159.8C2961.2 159.8 2965.3 161.2 2969.5 162.3C2973.7 163.5 2977.9 167.6 2982.1 167.6C2986.1 167.6 2990.1 157.1 2994.1 157.1C2998.1 157.1 3002.2 158.4 3006.2 160.2C3010.3 162.1 3014.3 186.4 3018.4 186.4C3022.6 186.4 3026.8 161.6 3031 160.7C3034.9 159.7 3038.9 159.2 3042.9 159.2C3047.1 159.2 3051.3 159.2 3055.5 159.2C3059.7 159.2 3063.9 181.2 3068.1 181.2C3072.1 181.2 3076 159.8 3080 159.8C3084.1 159.8 3088.1 162.7 3092.2 162.7C3096.4 162.7 3100.6 162.6 3104.8 162.3C3109 162.1 3113.1 161.3 3117.3 160.7C3121.3 160 3125.2 159 3129.1 158.1" fill="none" stroke="#f07d20" stroke-width="0.8" stroke-opacity="0.85"/>
<rect x="2027.8" y="431" width="28" height="8" rx="2" fill="#73BF69"/>
<rect x="2132.6" y="431" width="28" height="8" rx="2" fill="#F2CC0C"/>
<rect x="2265.8" y="431" width="28" height="8" rx="2" fill="#8AB8FF"/>
<rect x="2359.7" y="431" width="28" height="8" rx="2" fill="#FF780A"/>
<rect x="2471.9" y="431" width="28" height="8" rx="2" fill="#F2495C"/>
<rect x="2610.9" y="431" width="28" height="8" rx="2" fill="#5794F2"/>
<rect x="2730.9" y="431" width="28" height="8" rx="2" fill="#B877D9"/>
<rect x="2877.8" y="431" width="28" height="8" rx="2" fill="#705DA0"/>
<rect x="76.2" y="606.5" width="1481.8" height="1.5" fill="#2a2e32"/>
<rect x="76.2" y="713.6" width="1481.8" height="1.5" fill="#2a2e32"/>
<rect x="76.2" y="819.6" width="1481.8" height="1.5" fill="#2a2e32"/>
<rect x="164.7" y="586.5" width="1.5" height="241.9" fill="#2a2e32"/>
<rect x="340.1" y="586.5" width="1.5" height="241.9" fill="#2a2e32"/>
<rect x="515.5" y="586.5" width="1.5" height="241.9" fill="#2a2e32"/>
<rect x="690.9" y="586.5" width="1.5" height="241.9" fill="#2a2e32"/>
<rect x="866.4" y="586.5" width="1.5" height="241.9" fill="#2a2e32"/>
<rect x="1041.8" y="586.5" width="1.5" height="241.9" fill="#2a2e32"/>
<rect x="1217.2" y="586.5" width="1.5" height="241.9" fill="#2a2e32"/>
<rect x="1392.7" y="586.5" width="1.5" height="241.9" fill="#2a2e32"/>
<path d="M84.4 809C88.6 807.1 92.8 804.8 97 803.1C102.6 800.9 108.1 799.7 113.7 797.5C117.9 795.9 122.1 792.5 126.3 791.8C133.7 790.6 141 789.7 148.3 789.7C153.6 789.7 158.8 797.7 164.1 798.5C170.3 799.5 176.6 799.3 182.9 800.2C188.5 801 194.1 806.5 199.7 807.3C206 808.3 212.3 809 218.6 809C224.8 809 231.1 809 237.4 809C243 809 248.6 803.8 254.2 801.7C259.8 799.5 265.4 796 271 796C276.6 796 282.1 803.8 287.7 804.8C294 806 300.3 806.9 306.6 806.9C312.2 806.9 317.8 804.8 323.4 804.8C329 804.8 334.6 811.1 340.2 811.1C346.4 811.1 352.7 810.5 359 809.4C364.6 808.5 370.2 779.7 375.8 779.7C382.1 779.7 388.4 781.5 394.7 783.2C400.2 784.8 405.8 791.6 411.4 791.6C417.4 791.6 423.3 770.9 429.2 770.9C434.8 770.9 440.4 786.4 446 786.4C452.3 786.4 458.6 783.9 464.9 780.7C470.1 778 475.4 758.2 480.6 757.7C487.3 757 493.9 757.3 500.5 756.6C505.8 756.1 511 745.5 516.3 745.5C522.5 745.5 528.8 751.2 535.1 756.2C540.7 760.6 546.3 777.6 551.9 777.6C557.5 777.6 563.1 771.9 568.7 771.9C574.6 771.9 580.5 786 586.5 786C592.4 786 598.4 783.3 604.3 780.7C609.9 778.3 615.5 766.8 621.2 766.8C627.1 766.8 633 767.4 639 768.3C644.9 769.2 650.9 780.1 656.8 784.7C662.5 789.1 668.3 796.2 674 796.2C679.8 796.2 685.6 789.1 691.4 786.8C697.3 784.3 703.3 783.8 709.2 780.9C715 778 720.8 763.7 726.6 763.7C732.5 763.7 738.3 786.1 744.2 786.1C750.2 786.1 756.2 761.6 762.2 761.6C768 761.6 773.7 771.9 779.4 772.5C785.4 773.1 791.3 773.5 797.3 773.5C803.2 773.5 809.1 767.8 815.1 762.6C820.7 757.8 826.3 738.5 831.8 738.5C837.8 738.5 843.7 744.8 849.7 744.8C855.6 744.8 861.5 743.8 867.5 742.1C873.4 740.4 879.4 681.9 885.3 681.9C891.2 681.9 897.2 682.3 903.1 683C908.7 683.6 914.3 723.2 919.9 723.2C925.8 723.2 931.8 705.6 937.7 705.6C943.4 705.6 949.2 716.1 954.9 716.1C960.7 716.1 966.5 698.7 972.3 698.7C978.3 698.7 984.2 715.1 990.1 715.1C995.7 715.1 1001.3 704.6 1006.9 704.6C1012.8 704.6 1018.8 727 1024.7 734.3C1030.5 741.4 1036.2 751.1 1041.9 751.1C1047.9 751.1 1053.8 742.7 1059.7 742.7C1065.7 742.7 1071.6 749.4 1077.6 753.2C1083.4 756.9 1089.2 765.2 1095 765.2C1100.9 765.2 1106.8 755.7 1112.8 755.7C1118.6 755.7 1124.4 771 1130.2 771C1136.2 771 1142.2 770.4 1148.1 770C1154.7 769.6 1161.2 769.3 1167.8 768.6C1172.8 768 1177.9 765.5 1183 765.5C1188.5 765.5 1194 781.4 1199.6 781.4C1205.3 781.4 1211.1 728.3 1216.9 723.9C1222.8 719.5 1228.8 716.4 1234.8 716.4C1240.5 716.4 1246.3 732 1252.1 740C1257.9 748 1263.7 764.5 1269.6 764.5C1275.5 764.5 1281.5 742.7 1287.4 742.7C1293.4 742.7 1299.3 755.4 1305.3 761.4C1311.1 767.3 1317 778.4 1322.8 778.4C1328.7 778.4 1334.7 753.4 1340.6 753.4C1346.6 753.4 1352.5 759.4 1358.5 761.4C1364.6 763.5 1370.6 766.4 1376.7 766.4C1382.1 766.4 1387.4 716.4 1392.8 716.4C1398.7 716.4 1404.7 742.4 1410.6 746.2C1416.6 750.1 1422.5 749.9 1428.5 753.4C1434.2 756.7 1439.8 771.8 1445.5 771.8C1451.4 771.8 1457.4 742.7 1463.3 742.7C1469.3 742.7 1475.2 767.3 1481.2 767.3C1486.8 767.3 1492.5 753.4 1498.1 753.4C1504.1 753.4 1510 761.2 1516 764.1C1522 767 1527.9 767.9 1533.9 771.2C1539.5 774.5 1545.2 782.3 1550.8 787.9" fill="none" stroke="#73BF69" stroke-width="1.6" stroke-linejoin="round"/>
<path d="M84.4 793.9C94.2 793.5 104 793.1 113.7 792.7C125.3 792.1 136.8 790.8 148.3 790.8C153.6 790.8 158.8 792.1 164.1 792.7C170.3 793.3 176.6 793.6 182.9 794.3C188.5 795 194.1 796.3 199.7 796.9C206 797.4 212.3 797.8 218.6 798.1C224.8 798.4 231.1 799 237.4 799C243 799 248.6 799 254.2 799C259.8 799 265.4 796.9 271 796.9C276.6 796.9 282.1 798.9 287.7 799.6C294 800.3 300.3 801.3 306.6 801.3C312.2 801.3 317.8 801.3 323.4 801.3C329 801.3 334.6 802.3 340.2 802.7C346.4 803.2 352.7 804.2 359 804.2C364.6 804.2 370.2 798.1 375.8 798.1C382.1 798.1 388.4 798.1 394.7 798.1C400.2 798.1 405.8 799 411.4 799C417.4 799 423.3 792.2 429.2 792.2C434.8 792.2 440.4 792.9 446 792.9C452.3 792.9 458.6 791.8 464.9 790.6C470.1 789.5 475.4 784.6 480.6 783.2C487.3 781.5 493.9 781.2 500.5 779.7C505.8 778.5 511 775.6 516.3 775.1C522.5 774.4 528.8 773.8 535.1 773.8C540.7 773.8 546.3 777.1 551.9 777.1C557.5 777.1 563.1 775.9 568.7 775.9C574.6 775.9 580.5 779.7 586.5 779.7C592.4 779.7 598.4 779.4 604.3 779C609.9 778.7 615.5 775.2 621.2 775.2C627.1 775.2 633 775.2 639 775.2C644.9 775.2 650.9 777.6 656.8 778.8C662.5 779.9 668.3 781.9 674 781.9C679.8 781.9 685.6 781.3 691.4 780.9C697.3 780.5 703.3 780.1 709.2 779.4C715 778.7 720.8 775.2 726.6 775.2C732.5 775.2 738.3 780 744.2 780C750.2 780 756.2 773.8 762.2 773.8C768 773.8 773.7 774.8 779.4 774.8C785.4 774.8 791.3 774.8 797.3 774.8C803.2 774.8 809.1 774.3 815.1 773.5C820.7 772.8 826.3 766.1 831.8 765.4C837.8 764.6 843.7 764.7 849.7 764.1C855.6 763.5 861.5 762.5 867.5 760.5C873.4 758.6 879.4 747.8 885.3 744.8C891.2 741.8 897.2 738.5 903.1 738.5C908.7 738.5 914.3 742.7 919.9 742.7C925.8 742.7 931.8 736.9 937.7 736.9C943.4 736.9 949.2 736.9 954.9 736.9C960.7 736.9 966.5 730.8 972.3 730.8C978.3 730.8 984.2 731.8 990.1 731.8C995.7 731.8 1001.3 726.6 1006.9 726.6C1012.8 726.6 1018.8 730 1024.7 731.6C1030.5 733.2 1036.2 735.6 1041.9 736C1047.9 736.5 1053.8 736.5 1059.7 736.9C1065.7 737.2 1071.6 737.7 1077.6 738.5C1083.4 739.3 1089.2 742.7 1095 742.7C1100.9 742.7 1106.8 742.1 1112.8 742.1C1118.6 742.1 1124.4 746 1130.2 746.9C1136.2 747.9 1142.2 748.5 1148.1 748.9C1154.7 749.4 1161.2 749.8 1167.8 749.8C1172.8 749.8 1177.9 749.8 1183 749.8C1188.5 749.8 1194 756.4 1199.6 756.4C1205.3 756.4 1211.1 747.8 1216.9 745.7C1222.8 743.6 1228.8 741.2 1234.8 741.2C1240.5 741.2 1246.3 742.5 1252.1 743.6C1257.9 744.7 1263.7 748.9 1269.6 748.9C1275.5 748.9 1281.5 745.4 1287.4 745.4C1293.4 745.4 1299.3 747.5 1305.3 748.9C1311.1 750.3 1317 753.8 1322.8 753.8C1328.7 753.8 1334.7 749.8 1340.6 749.8C1346.6 749.8 1352.5 751.3 1358.5 752C1364.6 752.6 1370.6 753.8 1376.7 753.8C1382.1 753.8 1387.4 741.8 1392.8 741.8C1398.7 741.8 1404.7 745.9 1410.6 746.6C1416.6 747.3 1422.5 747.3 1428.5 748C1434.2 748.7 1439.8 752.9 1445.5 752.9C1451.4 752.9 1457.4 748 1463.3 748C1469.3 748 1475.2 752.9 1481.2 752.9C1486.8 752.9 1492.5 749.8 1498.1 749.8C1504.1 749.8 1510 750.9 1516 751.6C1522 752.3 1527.9 753 1533.9 754.3C1539.5 755.5 1545.2 758.1 1550.8 760" fill="none" stroke="#F2CC0C" stroke-width="2.0" stroke-linejoin="round"/>
<path d="M84.4 783.9C105.7 783.9 127 783.9 148.3 783.9C153.6 783.9 158.8 784.9 164.1 784.9C170.3 784.9 176.6 784.9 182.9 784.9C188.5 784.9 194.1 785.5 199.7 786C204.6 786.4 209.5 787.5 214.4 787.6C222.1 787.9 229.7 787.8 237.4 788.1C243 788.2 248.6 789.1 254.2 789.1C259.8 789.1 265.4 788.1 271 788.1C276.6 788.1 282.1 788.8 287.7 789.1C294 789.5 300.3 789.8 306.6 790.1C312.2 790.5 317.8 790.8 323.4 791.2C329 791.5 334.6 792.2 340.2 792.2C346.4 792.2 352.7 792.2 359 792.2C364.6 792.2 370.2 790.8 375.8 790.8C387.7 790.8 399.5 791.2 411.4 791.2C417.4 791.2 423.3 789.1 429.2 789.1C434.8 789.1 440.4 790.1 446 790.1C452.3 790.1 458.6 789.7 464.9 789.1C470.1 788.6 475.4 786.4 480.6 786C487.3 785.4 493.9 785.3 500.5 784.9C505.8 784.6 511 784.2 516.3 783.9C522.5 783.5 528.8 782.8 535.1 782.8C540.7 782.8 546.3 783.9 551.9 783.9C557.5 783.9 563.1 783.2 568.7 783.2C574.6 783.2 580.5 783.9 586.5 783.9C592.4 783.9 598.4 783.9 604.3 783.9C609.9 783.9 615.5 782.1 621.2 782.1C627.1 782.1 633 782.1 639 782.1C644.9 782.1 650.9 782.8 656.8 783.2C662.5 783.5 668.3 784.2 674 784.2C679.8 784.2 685.6 783.8 691.4 783.6C697.3 783.4 703.3 783.3 709.2 783C715 782.7 720.8 780.9 726.6 780.9C732.5 780.9 738.3 783 744.2 783C750.2 783 756.2 780.9 762.2 780.9C768 780.9 773.7 780.9 779.4 780.9C785.4 780.9 791.3 780.9 797.3 780.9C803.2 780.9 809.1 780.3 815.1 779.8C820.7 779.4 826.3 777.8 831.8 777.3C837.8 776.8 843.7 776.7 849.7 776.3C855.6 775.9 861.5 775.6 867.5 774.8C873.4 774 879.4 770.8 885.3 769.4C891.2 767.9 897.2 765.8 903.1 765.8C908.7 765.8 914.3 766.8 919.9 766.8C925.8 766.8 931.8 764.6 937.7 764.1C943.4 763.6 949.2 763.6 954.9 763.1C960.7 762.5 966.5 759.9 972.3 759.9C978.3 759.9 984.2 759.9 990.1 759.9C995.7 759.9 1001.3 757 1006.9 757C1012.8 757 1018.8 758 1024.7 758C1030.5 758 1036.2 758 1041.9 758C1047.9 758 1053.8 758 1059.7 758C1065.7 758 1071.6 758 1077.6 758C1083.4 758 1089.2 758.9 1095 758.9C1100.9 758.9 1106.8 758 1112.8 758C1118.6 758 1124.4 758.9 1130.2 758.9C1147.8 758.9 1165.4 758.8 1183 758.8C1188.5 758.8 1194 760 1199.6 760C1205.3 760 1211.1 758.2 1216.9 757.3C1222.8 756.4 1228.8 754.8 1234.8 754.8C1240.5 754.8 1246.3 755.7 1252.1 756.1C1257.9 756.4 1263.7 757 1269.6 757C1275.5 757 1281.5 756.1 1287.4 756.1C1293.4 756.1 1299.3 756.1 1305.3 756.1C1311.1 756.1 1317 757.9 1322.8 757.9C1328.7 757.9 1334.7 757 1340.6 757C1352.7 757 1364.7 757 1376.7 757C1382.1 757 1387.4 753.8 1392.8 753.8C1398.7 753.8 1404.7 754.6 1410.6 754.8C1416.6 755 1422.5 755 1428.5 755.2C1434.2 755.3 1439.8 756.1 1445.5 756.1C1451.4 756.1 1457.4 754.8 1463.3 754.8C1469.3 754.8 1475.2 756.1 1481.2 756.1C1486.8 756.1 1492.5 755.2 1498.1 755.2C1504.1 755.2 1510 756.1 1516 756.1C1522 756.1 1527.9 756.1 1533.9 756.1C1539.5 756.1 1545.2 757.5 1550.8 758.2" fill="none" stroke="#8AB8FF" stroke-width="1.9" stroke-linejoin="round"/>
<path d="M84 607.2H1551" stroke="#FF780A" stroke-width="2" stroke-dasharray="10 10" fill="none"/>
<rect x="57.8" y="887" width="28" height="8" rx="2" fill="#73BF69"/>
<rect x="310.9" y="887" width="28" height="8" rx="2" fill="#F2CC0C"/>
<rect x="566.8" y="887" width="28" height="8" rx="2" fill="#8AB8FF"/>
<rect x="834.5" y="887" width="28" height="8" rx="2" fill="#FF780A"/>
<rect x="1707.4" y="641.1" width="1427" height="1.5" fill="#2a2e32"/>
<rect x="1707.4" y="740.5" width="1427" height="1.5" fill="#2a2e32"/>
<rect x="1793.5" y="586.5" width="1.5" height="241.9" fill="#2a2e32"/>
<rect x="1962.4" y="586.5" width="1.5" height="241.9" fill="#2a2e32"/>
<rect x="2131.2" y="586.5" width="1.5" height="241.9" fill="#2a2e32"/>
<rect x="2300.1" y="586.5" width="1.5" height="241.9" fill="#2a2e32"/>
<rect x="2468.9" y="586.5" width="1.5" height="241.9" fill="#2a2e32"/>
<rect x="2637.8" y="586.5" width="1.5" height="241.9" fill="#2a2e32"/>
<rect x="2806.6" y="586.5" width="1.5" height="241.9" fill="#2a2e32"/>
<rect x="2975.5" y="586.5" width="1.5" height="241.9" fill="#2a2e32"/>
<path d="M1716.4 647.7C1720.7 647.7 1725 647.7 1729.4 647.7C1734.2 647.7 1739.1 644.9 1744 644.9C1749.8 644.9 1755.5 655 1761.2 655C1766.7 655 1772.1 644.1 1777.6 644.1C1783.3 644.1 1789 646 1794.8 646C1800.2 646 1805.7 636.5 1811.1 636.5C1816.7 636.5 1822.3 639.8 1827.9 641.4C1833.6 643 1839.3 646 1845.1 646C1850.7 646 1856.3 608.9 1861.8 608.9C1867.4 608.9 1873 647.7 1878.6 647.7C1884.3 647.7 1889.9 639.9 1895.6 639.9C1901.1 639.9 1906.6 645.1 1912.2 645.1C1918 645.1 1923.8 642.2 1929.6 639.9C1935.2 637.7 1940.7 633.2 1946.3 630.3C1951.9 627.3 1957.5 621.9 1963.1 621.9C1968.7 621.9 1974.3 642 1979.9 642.8C1985.5 643.6 1991.1 644.1 1996.6 644.1C2002.6 644.1 2008.5 642.2 2014.5 639.7C2019.8 637.4 2025.2 617.7 2030.6 617.7C2036.1 617.7 2041.5 649.1 2047 649.1C2052.9 649.1 2058.8 646.4 2064.8 644.1C2070.2 642 2075.7 634.7 2081.1 634.7C2086.9 634.7 2092.6 646.2 2098.3 646.2C2103.9 646.2 2109.5 625 2115.1 625C2120.7 625 2126.3 640.9 2131.9 640.9C2137.6 640.9 2143.3 634.7 2149.1 634.7C2154.6 634.7 2160.2 640 2165.8 642.4C2171.4 644.8 2177 649.3 2182.6 649.3C2188.1 649.3 2193.5 622.9 2199 622.9C2204.7 622.9 2210.4 656 2216.1 656C2221.6 656 2227 643 2232.5 643C2238.5 643 2244.4 648.1 2250.4 648.1C2256 648.1 2261.6 644.3 2267.2 642.8C2272.8 641.3 2278.4 640 2283.9 638.8C2289.7 637.7 2295.5 635.7 2301.3 635.7C2306.7 635.7 2312.1 642.8 2317.5 645.6C2323.1 648.4 2328.7 652.9 2334.3 652.9C2340.1 652.9 2345.9 651.9 2351.7 650.2C2357.2 648.5 2362.8 612.6 2368.4 612.6C2374 612.6 2379.6 636.3 2385.2 640.3C2390.8 644.4 2396.4 648.1 2402 648.1C2407.6 648.1 2413.2 638.8 2418.7 638.8C2424.5 638.8 2430.2 646.2 2435.9 646.2C2441.5 646.2 2447.1 643.9 2452.7 642.4C2458.3 640.9 2463.9 639.1 2469.5 636.5C2474.9 634.1 2480.4 626.1 2485.8 626.1C2491.6 626.1 2497.3 652.9 2503 652.9C2508.7 652.9 2514.5 646.4 2520.2 640.9C2525.8 635.7 2531.4 616.2 2537 616.2C2542.6 616.2 2548.2 628.9 2553.8 634C2559.6 639.4 2565.4 648.1 2571.2 648.1C2576.7 648.1 2582.3 647.2 2587.9 646C2593.3 644.8 2598.7 633.6 2604.1 633.6C2609.9 633.6 2615.7 645.1 2621.5 645.1C2626.9 645.1 2632.4 638.2 2637.8 638.2C2643.5 638.2 2649.3 648.3 2655 648.3C2660.7 648.3 2666.5 643.1 2672.2 640.3C2677.9 637.5 2683.5 635.9 2689.2 631.5C2694.8 627.2 2700.4 606.8 2706 606.8C2711.5 606.8 2717.1 636.1 2722.7 639.7C2728.3 643.3 2733.9 646.2 2739.5 646.2C2745.1 646.2 2750.7 639.5 2756.3 637.8C2761.7 636.1 2767.2 634.2 2772.6 634.2C2778.5 634.2 2784.3 643.8 2790.2 643.8C2795.8 643.8 2801.4 637.6 2807 637.6C2812.7 637.6 2818.5 638.1 2824.2 639C2829.9 639.8 2835.6 654.9 2841.4 654.9C2847.1 654.9 2852.8 649.7 2858.5 645C2863.7 640.7 2868.8 623.8 2874 623.8C2879.7 623.8 2885.5 651.5 2891.2 651.5C2896.9 651.5 2902.6 648.6 2908.4 645.8C2913.8 643.2 2919.2 631.7 2924.7 631.7C2930.4 631.7 2936.1 648.9 2941.9 648.9C2947.6 648.9 2953.3 645.2 2959 641C2964.8 636.8 2970.5 610.1 2976.2 610.1C2981.7 610.1 2987.1 626.8 2992.5 632.9C2998.1 639.3 3003.8 648.9 3009.4 648.9C3014.9 648.9 3020.5 641.1 3026 635C3031.6 628.9 3037.1 608.6 3042.7 608.6C3048.3 608.6 3053.9 633 3059.5 636.7C3065.3 640.5 3071 643.8 3076.7 643.8C3082.6 643.8 3088.4 618.9 3094.2 618.9C3099.8 618.9 3105.5 630.4 3111.1 633.8C3116.3 637 3121.6 638.6 3126.9 641L3126.9 820.4L1716.4 820.4Z" fill="url(#gc)"/>
<path d="M1716.4 796.9C1720.7 796.9 1725 796.9 1729.4 796.9C1734.2 796.9 1739.1 793.8 1744 793.8C1749.8 793.8 1755.5 800.1 1761.2 800.1C1766.7 800.1 1772.1 796.8 1777.6 795.9C1783.3 794.9 1789 794.6 1794.8 793.8C1800.2 793 1805.7 791.3 1811.1 791.3C1816.7 791.3 1822.3 792.2 1827.9 792.9C1833.6 793.7 1839.3 796.1 1845.1 796.1C1850.7 796.1 1856.3 776 1861.8 776C1867.4 776 1873 796.9 1878.6 796.9C1884.3 796.9 1889.9 789.8 1895.6 789.8C1901.1 789.8 1906.6 794.8 1912.2 794.8C1918 794.8 1923.8 792.8 1929.6 791.3C1935.2 789.8 1940.7 786.6 1946.3 785.4C1951.9 784.2 1957.5 782.9 1963.1 782.9C1968.7 782.9 1974.3 793.8 1979.9 793.8C1985.5 793.8 1991.1 793.8 1996.6 793.8C2002.6 793.8 2008.5 792.9 2014.5 791.7C2019.8 790.6 2025.2 778.1 2030.6 778.1C2036.1 778.1 2041.5 798 2047 798C2052.9 798 2058.8 795.2 2064.8 793.8C2070.2 792.5 2075.7 789.8 2081.1 789.8C2086.9 789.8 2092.6 795 2098.3 795C2103.9 795 2109.5 783.9 2115.1 783.9C2120.7 783.9 2126.3 794 2131.9 794C2137.6 794 2143.3 789.8 2149.1 789.8C2154.6 789.8 2160.2 791.1 2165.8 792.3C2171.4 793.5 2177 798 2182.6 798C2188.1 798 2193.5 781.8 2199 781.8C2204.7 781.8 2210.4 797.5 2216.1 797.5C2221.6 797.5 2227 792.7 2232.5 792.7C2238.5 792.7 2244.4 795 2250.4 795C2256 795 2261.6 792.9 2267.2 792.9C2272.8 792.9 2278.4 792.9 2283.9 792.9C2289.7 792.9 2295.5 790.8 2301.3 790.8C2306.7 790.8 2312.1 793.7 2317.5 795C2323.1 796.4 2328.7 799 2334.3 799C2340.1 799 2345.9 798.6 2351.7 798C2357.2 797.3 2362.8 776.6 2368.4 776.6C2374 776.6 2379.6 789.7 2385.2 791.9C2390.8 794.1 2396.4 796.1 2402 796.1C2407.6 796.1 2413.2 792.9 2418.7 792.9C2424.5 792.9 2430.2 795 2435.9 795C2441.5 795 2447.1 794.4 2452.7 793.8C2458.3 793.2 2463.9 792 2469.5 790.8C2474.9 789.8 2480.4 787.1 2485.8 787.1C2491.6 787.1 2497.3 799 2503 799C2508.7 799 2514.5 795.6 2520.2 792.3C2525.8 789.1 2531.4 774.9 2537 774.9C2542.6 774.9 2548.2 783.7 2553.8 787.1C2559.6 790.6 2565.4 796.1 2571.2 796.1C2576.7 796.1 2582.3 795.7 2587.9 795C2593.3 794.4 2598.7 787.1 2604.1 787.1C2609.9 787.1 2615.7 794 2621.5 794C2626.9 794 2632.4 791.9 2637.8 791.9C2643.5 791.9 2649.3 796.1 2655 796.1C2660.7 796.1 2666.5 795 2672.2 794C2677.9 793 2683.5 791.6 2689.2 789.2C2694.8 786.7 2700.4 773 2706 773C2711.5 773 2717.1 791.7 2722.7 792.9C2728.3 794.2 2733.9 795 2739.5 795C2745.1 795 2750.7 792.7 2756.3 791.7C2761.7 790.7 2767.2 788.9 2772.6 788.9C2778.5 788.9 2784.3 794.8 2790.2 794.8C2795.8 794.8 2801.4 793.1 2807 792.7C2812.7 792.3 2818.5 791.9 2824.2 791.9C2829.9 791.9 2835.6 799.1 2841.4 799.1C2847.1 799.1 2852.8 796.4 2858.5 793.9C2863.7 791.7 2868.8 782.9 2874 782.9C2879.7 782.9 2885.5 797 2891.2 797C2896.9 797 2902.6 797 2908.4 797C2913.8 797 2919.2 786.7 2924.7 786.7C2930.4 786.7 2936.1 797.9 2941.9 797.9C2947.6 797.9 2953.3 795.4 2959 792.7C2964.8 790 2970.5 773.8 2976.2 773.8C2981.7 773.8 2987.1 785.8 2992.5 788.9C2998.1 792.1 3003.8 795.8 3009.4 795.8C3014.9 795.8 3020.5 792.7 3026 789.8C3031.6 786.9 3037.1 773.8 3042.7 773.8C3048.3 773.8 3053.9 787.8 3059.5 790.1C3065.3 792.6 3071 794.8 3076.7 794.8C3082.6 794.8 3088.4 780.7 3094.2 780.7C3099.8 780.7 3105.5 786.8 3111.1 788.8C3116.3 790.6 3121.6 791.6 3126.9 793.1L3126.9 820.4L1716.4 820.4Z" fill="url(#gy)"/>
<path d="M1716.4 647.7C1720.7 647.7 1725 647.7 1729.4 647.7C1734.2 647.7 1739.1 644.9 1744 644.9C1749.8 644.9 1755.5 655 1761.2 655C1766.7 655 1772.1 644.1 1777.6 644.1C1783.3 644.1 1789 646 1794.8 646C1800.2 646 1805.7 636.5 1811.1 636.5C1816.7 636.5 1822.3 639.8 1827.9 641.4C1833.6 643 1839.3 646 1845.1 646C1850.7 646 1856.3 608.9 1861.8 608.9C1867.4 608.9 1873 647.7 1878.6 647.7C1884.3 647.7 1889.9 639.9 1895.6 639.9C1901.1 639.9 1906.6 645.1 1912.2 645.1C1918 645.1 1923.8 642.2 1929.6 639.9C1935.2 637.7 1940.7 633.2 1946.3 630.3C1951.9 627.3 1957.5 621.9 1963.1 621.9C1968.7 621.9 1974.3 642 1979.9 642.8C1985.5 643.6 1991.1 644.1 1996.6 644.1C2002.6 644.1 2008.5 642.2 2014.5 639.7C2019.8 637.4 2025.2 617.7 2030.6 617.7C2036.1 617.7 2041.5 649.1 2047 649.1C2052.9 649.1 2058.8 646.4 2064.8 644.1C2070.2 642 2075.7 634.7 2081.1 634.7C2086.9 634.7 2092.6 646.2 2098.3 646.2C2103.9 646.2 2109.5 625 2115.1 625C2120.7 625 2126.3 640.9 2131.9 640.9C2137.6 640.9 2143.3 634.7 2149.1 634.7C2154.6 634.7 2160.2 640 2165.8 642.4C2171.4 644.8 2177 649.3 2182.6 649.3C2188.1 649.3 2193.5 622.9 2199 622.9C2204.7 622.9 2210.4 656 2216.1 656C2221.6 656 2227 643 2232.5 643C2238.5 643 2244.4 648.1 2250.4 648.1C2256 648.1 2261.6 644.3 2267.2 642.8C2272.8 641.3 2278.4 640 2283.9 638.8C2289.7 637.7 2295.5 635.7 2301.3 635.7C2306.7 635.7 2312.1 642.8 2317.5 645.6C2323.1 648.4 2328.7 652.9 2334.3 652.9C2340.1 652.9 2345.9 651.9 2351.7 650.2C2357.2 648.5 2362.8 612.6 2368.4 612.6C2374 612.6 2379.6 636.3 2385.2 640.3C2390.8 644.4 2396.4 648.1 2402 648.1C2407.6 648.1 2413.2 638.8 2418.7 638.8C2424.5 638.8 2430.2 646.2 2435.9 646.2C2441.5 646.2 2447.1 643.9 2452.7 642.4C2458.3 640.9 2463.9 639.1 2469.5 636.5C2474.9 634.1 2480.4 626.1 2485.8 626.1C2491.6 626.1 2497.3 652.9 2503 652.9C2508.7 652.9 2514.5 646.4 2520.2 640.9C2525.8 635.7 2531.4 616.2 2537 616.2C2542.6 616.2 2548.2 628.9 2553.8 634C2559.6 639.4 2565.4 648.1 2571.2 648.1C2576.7 648.1 2582.3 647.2 2587.9 646C2593.3 644.8 2598.7 633.6 2604.1 633.6C2609.9 633.6 2615.7 645.1 2621.5 645.1C2626.9 645.1 2632.4 638.2 2637.8 638.2C2643.5 638.2 2649.3 648.3 2655 648.3C2660.7 648.3 2666.5 643.1 2672.2 640.3C2677.9 637.5 2683.5 635.9 2689.2 631.5C2694.8 627.2 2700.4 606.8 2706 606.8C2711.5 606.8 2717.1 636.1 2722.7 639.7C2728.3 643.3 2733.9 646.2 2739.5 646.2C2745.1 646.2 2750.7 639.5 2756.3 637.8C2761.7 636.1 2767.2 634.2 2772.6 634.2C2778.5 634.2 2784.3 643.8 2790.2 643.8C2795.8 643.8 2801.4 637.6 2807 637.6C2812.7 637.6 2818.5 638.1 2824.2 639C2829.9 639.8 2835.6 654.9 2841.4 654.9C2847.1 654.9 2852.8 649.7 2858.5 645C2863.7 640.7 2868.8 623.8 2874 623.8C2879.7 623.8 2885.5 651.5 2891.2 651.5C2896.9 651.5 2902.6 648.6 2908.4 645.8C2913.8 643.2 2919.2 631.7 2924.7 631.7C2930.4 631.7 2936.1 648.9 2941.9 648.9C2947.6 648.9 2953.3 645.2 2959 641C2964.8 636.8 2970.5 610.1 2976.2 610.1C2981.7 610.1 2987.1 626.8 2992.5 632.9C2998.1 639.3 3003.8 648.9 3009.4 648.9C3014.9 648.9 3020.5 641.1 3026 635C3031.6 628.9 3037.1 608.6 3042.7 608.6C3048.3 608.6 3053.9 633 3059.5 636.7C3065.3 640.5 3071 643.8 3076.7 643.8C3082.6 643.8 3088.4 618.9 3094.2 618.9C3099.8 618.9 3105.5 630.4 3111.1 633.8C3116.3 637 3121.6 638.6 3126.9 641" fill="none" stroke="#73BF69" stroke-width="2" stroke-linejoin="round"/>
<path d="M1716.4 796.9C1720.7 796.9 1725 796.9 1729.4 796.9C1734.2 796.9 1739.1 793.8 1744 793.8C1749.8 793.8 1755.5 800.1 1761.2 800.1C1766.7 800.1 1772.1 796.8 1777.6 795.9C1783.3 794.9 1789 794.6 1794.8 793.8C1800.2 793 1805.7 791.3 1811.1 791.3C1816.7 791.3 1822.3 792.2 1827.9 792.9C1833.6 793.7 1839.3 796.1 1845.1 796.1C1850.7 796.1 1856.3 776 1861.8 776C1867.4 776 1873 796.9 1878.6 796.9C1884.3 796.9 1889.9 789.8 1895.6 789.8C1901.1 789.8 1906.6 794.8 1912.2 794.8C1918 794.8 1923.8 792.8 1929.6 791.3C1935.2 789.8 1940.7 786.6 1946.3 785.4C1951.9 784.2 1957.5 782.9 1963.1 782.9C1968.7 782.9 1974.3 793.8 1979.9 793.8C1985.5 793.8 1991.1 793.8 1996.6 793.8C2002.6 793.8 2008.5 792.9 2014.5 791.7C2019.8 790.6 2025.2 778.1 2030.6 778.1C2036.1 778.1 2041.5 798 2047 798C2052.9 798 2058.8 795.2 2064.8 793.8C2070.2 792.5 2075.7 789.8 2081.1 789.8C2086.9 789.8 2092.6 795 2098.3 795C2103.9 795 2109.5 783.9 2115.1 783.9C2120.7 783.9 2126.3 794 2131.9 794C2137.6 794 2143.3 789.8 2149.1 789.8C2154.6 789.8 2160.2 791.1 2165.8 792.3C2171.4 793.5 2177 798 2182.6 798C2188.1 798 2193.5 781.8 2199 781.8C2204.7 781.8 2210.4 797.5 2216.1 797.5C2221.6 797.5 2227 792.7 2232.5 792.7C2238.5 792.7 2244.4 795 2250.4 795C2256 795 2261.6 792.9 2267.2 792.9C2272.8 792.9 2278.4 792.9 2283.9 792.9C2289.7 792.9 2295.5 790.8 2301.3 790.8C2306.7 790.8 2312.1 793.7 2317.5 795C2323.1 796.4 2328.7 799 2334.3 799C2340.1 799 2345.9 798.6 2351.7 798C2357.2 797.3 2362.8 776.6 2368.4 776.6C2374 776.6 2379.6 789.7 2385.2 791.9C2390.8 794.1 2396.4 796.1 2402 796.1C2407.6 796.1 2413.2 792.9 2418.7 792.9C2424.5 792.9 2430.2 795 2435.9 795C2441.5 795 2447.1 794.4 2452.7 793.8C2458.3 793.2 2463.9 792 2469.5 790.8C2474.9 789.8 2480.4 787.1 2485.8 787.1C2491.6 787.1 2497.3 799 2503 799C2508.7 799 2514.5 795.6 2520.2 792.3C2525.8 789.1 2531.4 774.9 2537 774.9C2542.6 774.9 2548.2 783.7 2553.8 787.1C2559.6 790.6 2565.4 796.1 2571.2 796.1C2576.7 796.1 2582.3 795.7 2587.9 795C2593.3 794.4 2598.7 787.1 2604.1 787.1C2609.9 787.1 2615.7 794 2621.5 794C2626.9 794 2632.4 791.9 2637.8 791.9C2643.5 791.9 2649.3 796.1 2655 796.1C2660.7 796.1 2666.5 795 2672.2 794C2677.9 793 2683.5 791.6 2689.2 789.2C2694.8 786.7 2700.4 773 2706 773C2711.5 773 2717.1 791.7 2722.7 792.9C2728.3 794.2 2733.9 795 2739.5 795C2745.1 795 2750.7 792.7 2756.3 791.7C2761.7 790.7 2767.2 788.9 2772.6 788.9C2778.5 788.9 2784.3 794.8 2790.2 794.8C2795.8 794.8 2801.4 793.1 2807 792.7C2812.7 792.3 2818.5 791.9 2824.2 791.9C2829.9 791.9 2835.6 799.1 2841.4 799.1C2847.1 799.1 2852.8 796.4 2858.5 793.9C2863.7 791.7 2868.8 782.9 2874 782.9C2879.7 782.9 2885.5 797 2891.2 797C2896.9 797 2902.6 797 2908.4 797C2913.8 797 2919.2 786.7 2924.7 786.7C2930.4 786.7 2936.1 797.9 2941.9 797.9C2947.6 797.9 2953.3 795.4 2959 792.7C2964.8 790 2970.5 773.8 2976.2 773.8C2981.7 773.8 2987.1 785.8 2992.5 788.9C2998.1 792.1 3003.8 795.8 3009.4 795.8C3014.9 795.8 3020.5 792.7 3026 789.8C3031.6 786.9 3037.1 773.8 3042.7 773.8C3048.3 773.8 3053.9 787.8 3059.5 790.1C3065.3 792.6 3071 794.8 3076.7 794.8C3082.6 794.8 3088.4 780.7 3094.2 780.7C3099.8 780.7 3105.5 786.8 3111.1 788.8C3116.3 790.6 3121.6 791.6 3126.9 793.1" fill="none" stroke="#F2CC0C" stroke-width="2" stroke-linejoin="round"/>
<rect x="1634" y="887" width="28" height="8" rx="2" fill="#73BF69"/>
<rect x="1902.4" y="887" width="28" height="8" rx="2" fill="#F2CC0C"/>
<path d="M54.4 973.2L60 978.9L65.6 973.2" fill="none" stroke="#ccccdc" stroke-width="2.7" stroke-linecap="round" stroke-linejoin="round"/>
<rect x="617.8" y="1118" width="2.4" height="54" fill="#9de295"/>
<rect x="626" y="1119" width="23" height="52" fill="#76a971" stroke="#9de295" stroke-width="2"/>
<rect x="656" y="1119" width="23" height="52" fill="#76a971" stroke="#9de295" stroke-width="2"/>
<rect x="686" y="1119" width="23" height="52" fill="#76a971" stroke="#9de295" stroke-width="2"/>
<rect x="716" y="1119" width="23" height="52" fill="#76a971" stroke="#9de295" stroke-width="2"/>
<rect x="745" y="1119" width="23" height="52" fill="#76a971" stroke="#9de295" stroke-width="2"/>
<rect x="775" y="1119" width="23" height="52" fill="#76a971" stroke="#9de295" stroke-width="2"/>
<rect x="805" y="1119" width="23" height="52" fill="#76a971" stroke="#9de295" stroke-width="2"/>
<rect x="835" y="1119" width="23" height="52" fill="#76a971" stroke="#9de295" stroke-width="2"/>
<rect x="865" y="1119" width="23" height="52" fill="#76a971" stroke="#9de295" stroke-width="2"/>
<rect x="895" y="1119" width="23" height="52" fill="#76a971" stroke="#9de295" stroke-width="2"/>
<rect x="925" y="1119" width="23" height="52" fill="#76a971" stroke="#9de295" stroke-width="2"/>
<rect x="955" y="1119" width="23" height="52" fill="#76a971" stroke="#9de295" stroke-width="2"/>
<rect x="985" y="1119" width="23" height="52" fill="#76a971" stroke="#9de295" stroke-width="2"/>
<rect x="1015" y="1119" width="23" height="52" fill="#76a971" stroke="#9de295" stroke-width="2"/>
<rect x="1044" y="1119" width="23" height="52" fill="#76a971" stroke="#9de295" stroke-width="2"/>
<rect x="1074" y="1119" width="23" height="52" fill="#76a971" stroke="#9de295" stroke-width="2"/>
<rect x="1104" y="1119" width="23" height="52" fill="#76a971" stroke="#9de295" stroke-width="2"/>
<rect x="1134" y="1119" width="23" height="52" fill="#76a971" stroke="#9de295" stroke-width="2"/>
<rect x="1164" y="1119" width="23" height="52" fill="#76a971" stroke="#9de295" stroke-width="2"/>
<rect x="1194" y="1119" width="23" height="52" fill="#76a971" stroke="#9de295" stroke-width="2"/>
<rect x="1224" y="1119" width="23" height="52" fill="#76a971" stroke="#9de295" stroke-width="2"/>
<rect x="1254" y="1119" width="23" height="52" fill="#76a971" stroke="#9de295" stroke-width="2"/>
<rect x="1284" y="1119" width="23" height="52" fill="#76a971" stroke="#9de295" stroke-width="2"/>
<rect x="1314" y="1119" width="23" height="52" fill="#76a971" stroke="#9de295" stroke-width="2"/>
<rect x="1343" y="1119" width="23" height="52" fill="#76a971" stroke="#9de295" stroke-width="2"/>
<rect x="1373" y="1119" width="23" height="52" fill="#76a971" stroke="#9de295" stroke-width="2"/>
<rect x="1403" y="1119" width="23" height="52" fill="#76a971" stroke="#9de295" stroke-width="2"/>
<rect x="1433" y="1119" width="23" height="52" fill="#76a971" stroke="#9de295" stroke-width="2"/>
<rect x="1463" y="1119" width="23" height="52" fill="#76a971" stroke="#9de295" stroke-width="2"/>
<rect x="1493" y="1119" width="23" height="52" fill="#76a971" stroke="#9de295" stroke-width="2"/>
<rect x="1523" y="1119" width="23" height="52" fill="#76a971" stroke="#9de295" stroke-width="2"/>
<rect x="1553" y="1119" width="23" height="52" fill="#76a971" stroke="#9de295" stroke-width="2"/>
<rect x="1583" y="1119" width="23" height="52" fill="#76a971" stroke="#9de295" stroke-width="2"/>
<rect x="1613" y="1119" width="23" height="52" fill="#76a971" stroke="#9de295" stroke-width="2"/>
<rect x="1642" y="1119" width="23" height="52" fill="#76a971" stroke="#9de295" stroke-width="2"/>
<rect x="1672" y="1119" width="23" height="52" fill="#76a971" stroke="#9de295" stroke-width="2"/>
<rect x="1702" y="1119" width="23" height="52" fill="#76a971" stroke="#9de295" stroke-width="2"/>
<rect x="1732" y="1119" width="23" height="52" fill="#76a971" stroke="#9de295" stroke-width="2"/>
<rect x="1762" y="1119" width="23" height="52" fill="#76a971" stroke="#9de295" stroke-width="2"/>
<rect x="1792" y="1119" width="23" height="52" fill="#76a971" stroke="#9de295" stroke-width="2"/>
<rect x="1822" y="1119" width="23" height="52" fill="#76a971" stroke="#9de295" stroke-width="2"/>
<rect x="1852" y="1119" width="23" height="52" fill="#76a971" stroke="#9de295" stroke-width="2"/>
<rect x="1882" y="1119" width="23" height="52" fill="#76a971" stroke="#9de295" stroke-width="2"/>
<rect x="1912" y="1119" width="23" height="52" fill="#76a971" stroke="#9de295" stroke-width="2"/>
<rect x="1941" y="1119" width="23" height="52" fill="#76a971" stroke="#9de295" stroke-width="2"/>
<rect x="1971" y="1119" width="23" height="52" fill="#76a971" stroke="#9de295" stroke-width="2"/>
<rect x="2001" y="1119" width="23" height="52" fill="#76a971" stroke="#9de295" stroke-width="2"/>
<rect x="2031" y="1119" width="23" height="52" fill="#76a971" stroke="#9de295" stroke-width="2"/>
<rect x="2061" y="1119" width="23" height="52" fill="#76a971" stroke="#9de295" stroke-width="2"/>
<rect x="2091" y="1119" width="23" height="52" fill="#76a971" stroke="#9de295" stroke-width="2"/>
<rect x="2121" y="1119" width="23" height="52" fill="#76a971" stroke="#9de295" stroke-width="2"/>
<rect x="2151" y="1119" width="23" height="52" fill="#76a971" stroke="#9de295" stroke-width="2"/>
<rect x="2181" y="1119" width="23" height="52" fill="#76a971" stroke="#9de295" stroke-width="2"/>
<rect x="2211" y="1119" width="23" height="52" fill="#76a971" stroke="#9de295" stroke-width="2"/>
<rect x="2240" y="1119" width="23" height="52" fill="#76a971" stroke="#9de295" stroke-width="2"/>
<rect x="2270" y="1119" width="23" height="52" fill="#76a971" stroke="#9de295" stroke-width="2"/>
<rect x="2300" y="1119" width="23" height="52" fill="#76a971" stroke="#9de295" stroke-width="2"/>
<rect x="2330" y="1119" width="23" height="52" fill="#76a971" stroke="#9de295" stroke-width="2"/>
<rect x="2360" y="1119" width="23" height="52" fill="#76a971" stroke="#9de295" stroke-width="2"/>
<rect x="2390" y="1119" width="23" height="52" fill="#76a971" stroke="#9de295" stroke-width="2"/>
<rect x="2420" y="1119" width="23" height="52" fill="#76a971" stroke="#9de295" stroke-width="2"/>
<rect x="2450" y="1119" width="23" height="52" fill="#76a971" stroke="#9de295" stroke-width="2"/>
<rect x="2480" y="1119" width="23" height="52" fill="#76a971" stroke="#9de295" stroke-width="2"/>
<rect x="2510" y="1119" width="23" height="52" fill="#76a971" stroke="#9de295" stroke-width="2"/>
<rect x="2539" y="1119" width="23" height="52" fill="#76a971" stroke="#9de295" stroke-width="2"/>
<rect x="2569" y="1119" width="23" height="52" fill="#76a971" stroke="#9de295" stroke-width="2"/>
<rect x="2599" y="1119" width="23" height="52" fill="#76a971" stroke="#9de295" stroke-width="2"/>
<rect x="2629" y="1119" width="23" height="52" fill="#76a971" stroke="#9de295" stroke-width="2"/>
<rect x="2659" y="1119" width="23" height="52" fill="#76a971" stroke="#9de295" stroke-width="2"/>
<rect x="2689" y="1119" width="23" height="52" fill="#76a971" stroke="#9de295" stroke-width="2"/>
<rect x="2719" y="1119" width="23" height="52" fill="#76a971" stroke="#9de295" stroke-width="2"/>
<rect x="2749" y="1119" width="23" height="52" fill="#76a971" stroke="#9de295" stroke-width="2"/>
<rect x="2779" y="1119" width="23" height="52" fill="#76a971" stroke="#9de295" stroke-width="2"/>
<rect x="2809" y="1119" width="23" height="52" fill="#76a971" stroke="#9de295" stroke-width="2"/>
<rect x="2838" y="1119" width="23" height="52" fill="#76a971" stroke="#9de295" stroke-width="2"/>
<rect x="2868" y="1119" width="23" height="52" fill="#76a971" stroke="#9de295" stroke-width="2"/>
<rect x="2898" y="1119" width="23" height="52" fill="#76a971" stroke="#9de295" stroke-width="2"/>
<rect x="2928" y="1119" width="23" height="52" fill="#76a971" stroke="#9de295" stroke-width="2"/>
<rect x="2958" y="1119" width="23" height="52" fill="#76a971" stroke="#9de295" stroke-width="2"/>
<rect x="2988" y="1119" width="23" height="52" fill="#76a971" stroke="#9de295" stroke-width="2"/>
<rect x="3018" y="1119" width="23" height="52" fill="#76a971" stroke="#9de295" stroke-width="2"/>
<rect x="3048" y="1119" width="23" height="52" fill="#76a971" stroke="#9de295" stroke-width="2"/>
<rect x="3078" y="1119" width="23" height="52" fill="#76a971" stroke="#9de295" stroke-width="2"/>
<rect x="3108" y="1119" width="23" height="52" fill="#76a971" stroke="#9de295" stroke-width="2"/>
<rect x="905.2" y="1172" width="1.5" height="8" fill="#2a2e32"/>
<rect x="1204.3" y="1172" width="1.5" height="8" fill="#2a2e32"/>
<rect x="1503.3" y="1172" width="1.5" height="8" fill="#2a2e32"/>
<rect x="1802.4" y="1172" width="1.5" height="8" fill="#2a2e32"/>
<rect x="2101.4" y="1172" width="1.5" height="8" fill="#2a2e32"/>
<rect x="2400.5" y="1172" width="1.5" height="8" fill="#2a2e32"/>
<rect x="2699.6" y="1172" width="1.5" height="8" fill="#2a2e32"/>
<rect x="2998.6" y="1172" width="1.5" height="8" fill="#2a2e32"/>
<rect x="132.4" y="1353.7" width="3002" height="1.5" fill="#2a2e32"/>
<rect x="132.4" y="1429" width="3002" height="1.5" fill="#2a2e32"/>
<rect x="132.4" y="1504.3" width="3002" height="1.5" fill="#2a2e32"/>
<rect x="132.4" y="1579.7" width="3002" height="1.5" fill="#2a2e32"/>
<rect x="305.6" y="1346.5" width="1.5" height="242" fill="#2a2e32"/>
<rect x="661.8" y="1346.5" width="1.5" height="242" fill="#2a2e32"/>
<rect x="1017.9" y="1346.5" width="1.5" height="242" fill="#2a2e32"/>
<rect x="1374" y="1346.5" width="1.5" height="242" fill="#2a2e32"/>
<rect x="1730.1" y="1346.5" width="1.5" height="242" fill="#2a2e32"/>
<rect x="2086.2" y="1346.5" width="1.5" height="242" fill="#2a2e32"/>
<rect x="2442.3" y="1346.5" width="1.5" height="242" fill="#2a2e32"/>
<rect x="2798.4" y="1346.5" width="1.5" height="242" fill="#2a2e32"/>
<path d="M139.6 1517C147.6 1529.5 155.6 1554.5 163.6 1554.5C175.4 1554.5 187.2 1499 199 1499C210.8 1499 222.6 1564.6 234.4 1564.6C246.4 1564.6 258.4 1528.4 270.4 1509.5C282.4 1490.7 294.4 1451.5 306.4 1451.5C317.8 1451.5 329.3 1518 340.7 1518C352.6 1518 364.6 1460.8 376.5 1460.8C388.4 1460.8 400.4 1524.5 412.3 1524.5C424.2 1524.5 436.2 1468.6 448.1 1468.6C460 1468.6 472 1534.9 483.9 1534.9C495.6 1534.9 507.3 1477.6 519 1477.6C531 1477.6 543.1 1542.4 555.1 1542.4C566.9 1542.4 578.8 1485.8 590.6 1485.8C602.5 1485.8 614.4 1551 626.3 1551C638.2 1551 650.2 1494.4 662.1 1494.4C673.8 1494.4 685.5 1558.8 697.2 1558.8C709.1 1558.8 721.1 1501.6 733 1501.6C745.2 1501.6 757.3 1568.1 769.5 1568.1C781.3 1568.1 793 1531.7 804.8 1512.7C816.6 1493.7 828.3 1454.3 840.1 1454.3C852 1454.3 864 1520.9 875.9 1520.9C887.7 1520.9 899.5 1463.3 911.3 1463.3C923.2 1463.3 935.2 1530.2 947.1 1530.2C958.9 1530.2 970.7 1472.6 982.5 1472.6C994.4 1472.6 1006.4 1539.2 1018.3 1539.2C1030.1 1539.2 1042 1482.2 1053.8 1482.2C1065.6 1482.2 1077.4 1549.2 1089.2 1549.2C1101.1 1549.2 1113.1 1491.5 1125 1491.5C1136.9 1491.5 1148.9 1558.1 1160.8 1558.1C1172.6 1558.1 1184.4 1501.6 1196.2 1501.6C1208.3 1501.6 1220.3 1564.6 1232.4 1564.6C1244.2 1564.6 1255.9 1528.4 1267.7 1509.5C1279.4 1490.7 1291.2 1451.5 1302.9 1451.5C1314.8 1451.5 1326.8 1518 1338.7 1518C1350.4 1518 1362 1461.5 1373.7 1461.5C1385.8 1461.5 1397.8 1525.9 1409.9 1525.9C1421.7 1525.9 1433.5 1468.6 1445.3 1468.6C1457.2 1468.6 1469.2 1534.9 1481.1 1534.9C1493 1534.9 1505 1478.7 1516.9 1478.7C1528.5 1478.7 1540 1542 1551.6 1542C1563.5 1542 1575.5 1484 1587.4 1484C1599.7 1484 1612 1551 1624.3 1551C1635.9 1551 1647.4 1494.4 1659 1494.4C1671.1 1494.4 1683.1 1561 1695.2 1561C1707 1561 1718.7 1524.8 1730.5 1506C1742.2 1487.1 1754 1447.9 1765.7 1447.9C1777.9 1447.9 1790 1513.7 1802.2 1513.7C1813.8 1513.7 1825.3 1456.5 1836.9 1456.5C1848.8 1456.5 1860.8 1523 1872.7 1523C1884.6 1523 1896.6 1466.9 1908.5 1466.9C1920.4 1466.9 1932.4 1532 1944.3 1532C1956 1532 1967.7 1474.4 1979.4 1474.4C1991.4 1474.4 2003.5 1539.2 2015.5 1539.2C2027.2 1539.2 2038.9 1483 2050.6 1483C2062.7 1483 2074.7 1547.4 2086.8 1547.4C2098.6 1547.4 2110.4 1489.8 2122.2 1489.8C2134 1489.8 2145.8 1556 2157.6 1556C2169.5 1556 2181.5 1499 2193.4 1499C2205.5 1499 2217.5 1563.8 2229.6 1563.8C2241.4 1563.8 2253.2 1527.3 2265 1508.2C2276.8 1489.2 2288.6 1449.7 2300.4 1449.7C2312.3 1449.7 2324.3 1514.1 2336.2 1514.1C2347.9 1514.1 2359.6 1457.9 2371.3 1457.9C2383.3 1457.9 2395.2 1524.1 2407.2 1524.1C2419.2 1524.1 2431.3 1466.9 2443.3 1466.9C2455.1 1466.9 2466.9 1533.8 2478.7 1533.8C2490.4 1533.8 2502.1 1476.9 2513.8 1476.9C2525.7 1476.9 2537.7 1541.3 2549.6 1541.3C2561.5 1541.3 2573.5 1483.7 2585.4 1483.7C2597.2 1483.7 2609 1550.2 2620.8 1550.2C2632.7 1550.2 2644.7 1493.7 2656.6 1493.7C2668.4 1493.7 2680.2 1560.3 2692 1560.3C2703.9 1560.3 2715.9 1502.6 2727.8 1502.6C2740 1502.6 2752.2 1569.2 2764.4 1569.2C2776.1 1569.2 2787.8 1532.8 2799.4 1513.8C2811.1 1494.8 2822.8 1455.4 2834.5 1455.4C2846.7 1455.4 2858.8 1522.3 2871 1522.3C2882.6 1522.3 2894.1 1465.8 2905.7 1465.8C2917.9 1465.8 2930 1530.2 2942.2 1530.2C2953.9 1530.2 2965.6 1472.6 2977.3 1472.6C2989.5 1472.6 3001.6 1537.4 3013.8 1537.4C3025.4 1537.4 3037.1 1500.4 3048.7 1481.8C3060.5 1462.9 3072.4 1443.8 3084.2 1424.7C3096.1 1405.5 3108 1386.2 3119.9 1367L3119.9 1580.3L139.6 1580.3Z" fill="url(#gd)"/>
<path d="M139.6 1517C147.6 1529.5 155.6 1554.5 163.6 1554.5C175.4 1554.5 187.2 1499 199 1499C210.8 1499 222.6 1564.6 234.4 1564.6C246.4 1564.6 258.4 1528.4 270.4 1509.5C282.4 1490.7 294.4 1451.5 306.4 1451.5C317.8 1451.5 329.3 1518 340.7 1518C352.6 1518 364.6 1460.8 376.5 1460.8C388.4 1460.8 400.4 1524.5 412.3 1524.5C424.2 1524.5 436.2 1468.6 448.1 1468.6C460 1468.6 472 1534.9 483.9 1534.9C495.6 1534.9 507.3 1477.6 519 1477.6C531 1477.6 543.1 1542.4 555.1 1542.4C566.9 1542.4 578.8 1485.8 590.6 1485.8C602.5 1485.8 614.4 1551 626.3 1551C638.2 1551 650.2 1494.4 662.1 1494.4C673.8 1494.4 685.5 1558.8 697.2 1558.8C709.1 1558.8 721.1 1501.6 733 1501.6C745.2 1501.6 757.3 1568.1 769.5 1568.1C781.3 1568.1 793 1531.7 804.8 1512.7C816.6 1493.7 828.3 1454.3 840.1 1454.3C852 1454.3 864 1520.9 875.9 1520.9C887.7 1520.9 899.5 1463.3 911.3 1463.3C923.2 1463.3 935.2 1530.2 947.1 1530.2C958.9 1530.2 970.7 1472.6 982.5 1472.6C994.4 1472.6 1006.4 1539.2 1018.3 1539.2C1030.1 1539.2 1042 1482.2 1053.8 1482.2C1065.6 1482.2 1077.4 1549.2 1089.2 1549.2C1101.1 1549.2 1113.1 1491.5 1125 1491.5C1136.9 1491.5 1148.9 1558.1 1160.8 1558.1C1172.6 1558.1 1184.4 1501.6 1196.2 1501.6C1208.3 1501.6 1220.3 1564.6 1232.4 1564.6C1244.2 1564.6 1255.9 1528.4 1267.7 1509.5C1279.4 1490.7 1291.2 1451.5 1302.9 1451.5C1314.8 1451.5 1326.8 1518 1338.7 1518C1350.4 1518 1362 1461.5 1373.7 1461.5C1385.8 1461.5 1397.8 1525.9 1409.9 1525.9C1421.7 1525.9 1433.5 1468.6 1445.3 1468.6C1457.2 1468.6 1469.2 1534.9 1481.1 1534.9C1493 1534.9 1505 1478.7 1516.9 1478.7C1528.5 1478.7 1540 1542 1551.6 1542C1563.5 1542 1575.5 1484 1587.4 1484C1599.7 1484 1612 1551 1624.3 1551C1635.9 1551 1647.4 1494.4 1659 1494.4C1671.1 1494.4 1683.1 1561 1695.2 1561C1707 1561 1718.7 1524.8 1730.5 1506C1742.2 1487.1 1754 1447.9 1765.7 1447.9C1777.9 1447.9 1790 1513.7 1802.2 1513.7C1813.8 1513.7 1825.3 1456.5 1836.9 1456.5C1848.8 1456.5 1860.8 1523 1872.7 1523C1884.6 1523 1896.6 1466.9 1908.5 1466.9C1920.4 1466.9 1932.4 1532 1944.3 1532C1956 1532 1967.7 1474.4 1979.4 1474.4C1991.4 1474.4 2003.5 1539.2 2015.5 1539.2C2027.2 1539.2 2038.9 1483 2050.6 1483C2062.7 1483 2074.7 1547.4 2086.8 1547.4C2098.6 1547.4 2110.4 1489.8 2122.2 1489.8C2134 1489.8 2145.8 1556 2157.6 1556C2169.5 1556 2181.5 1499 2193.4 1499C2205.5 1499 2217.5 1563.8 2229.6 1563.8C2241.4 1563.8 2253.2 1527.3 2265 1508.2C2276.8 1489.2 2288.6 1449.7 2300.4 1449.7C2312.3 1449.7 2324.3 1514.1 2336.2 1514.1C2347.9 1514.1 2359.6 1457.9 2371.3 1457.9C2383.3 1457.9 2395.2 1524.1 2407.2 1524.1C2419.2 1524.1 2431.3 1466.9 2443.3 1466.9C2455.1 1466.9 2466.9 1533.8 2478.7 1533.8C2490.4 1533.8 2502.1 1476.9 2513.8 1476.9C2525.7 1476.9 2537.7 1541.3 2549.6 1541.3C2561.5 1541.3 2573.5 1483.7 2585.4 1483.7C2597.2 1483.7 2609 1550.2 2620.8 1550.2C2632.7 1550.2 2644.7 1493.7 2656.6 1493.7C2668.4 1493.7 2680.2 1560.3 2692 1560.3C2703.9 1560.3 2715.9 1502.6 2727.8 1502.6C2740 1502.6 2752.2 1569.2 2764.4 1569.2C2776.1 1569.2 2787.8 1532.8 2799.4 1513.8C2811.1 1494.8 2822.8 1455.4 2834.5 1455.4C2846.7 1455.4 2858.8 1522.3 2871 1522.3C2882.6 1522.3 2894.1 1465.8 2905.7 1465.8C2917.9 1465.8 2930 1530.2 2942.2 1530.2C2953.9 1530.2 2965.6 1472.6 2977.3 1472.6C2989.5 1472.6 3001.6 1537.4 3013.8 1537.4C3025.4 1537.4 3037.1 1500.4 3048.7 1481.8C3060.5 1462.9 3072.4 1443.8 3084.2 1424.7C3096.1 1405.5 3108 1386.2 3119.9 1367" fill="none" stroke="#8AB8FF" stroke-width="2.3" stroke-linejoin="round"/>
<rect x="139.6" y="1579.3" width="2980.5" height="2.1" fill="#F2CC0C"/>
<rect x="58" y="1647" width="28" height="8" rx="2" fill="#73BF69"/>
<rect x="432" y="1647" width="28" height="8" rx="2" fill="#F2CC0C"/>
<rect x="1150" y="1647" width="28" height="8" rx="2" fill="#8AB8FF"/>
</svg>
<div id="tx"><span class="t" style="left:341.9px;top:51px;font-size:29.5px;transform:scaleX(0.9752);-webkit-text-stroke:0.9px #ccccdc">CPU Usage</span>
<span class="t" style="left:169.7px;top:185.8px;font-size:197px;transform:scaleX(1.1146);color:#598cc0;-webkit-text-stroke:3.2px #598cc0">1</span>
<span class="m" style="left:183.8px;top:335px;width:39.6px;height:23px"></span>
<span class="m" style="left:246.4px;top:335px;width:37.8px;height:23px"></span>
<span class="t" style="left:274.5px;top:185.8px;font-size:197px;transform:scaleX(1.0128);color:#598cc0;-webkit-text-stroke:3.2px #598cc0">2</span>
<span class="t" style="left:375.1px;top:185.8px;font-size:197px;transform:scaleX(1.5040);color:#598cc0;-webkit-text-stroke:0px #598cc0;opacity:0">.</span>
<span class="t" style="left:441.4px;top:185.8px;font-size:197px;transform:scaleX(1.0573);color:#598cc0;-webkit-text-stroke:3.2px #598cc0">8</span>
<span class="t" style="left:565.8px;top:248.6px;font-size:124.5px;transform:scaleX(0.7676);color:#598cc0;-webkit-text-stroke:0px #598cc0;opacity:0">%</span>
<span class="t" style="left:1326.9px;top:51px;font-size:29.5px;transform:scaleX(0.9752);-webkit-text-stroke:0.9px #ccccdc">CPU Usage</span>
<span class="t" style="left:837.2px;top:116.7px;font-size:24px;transform:scaleX(1.0013)">100%</span>
<span class="t" style="left:850.9px;top:233.7px;font-size:24px;transform:scaleX(0.9924)">50%</span>
<span class="t" style="left:865.3px;top:350.7px;font-size:24px;transform:scaleX(0.9606)">0%</span>
<span class="t" style="left:942.1px;top:380.7px;font-size:24px;transform:scaleX(1.1107)">08:00</span>
<span class="t" style="left:1065px;top:380.7px;font-size:24px;transform:scaleX(1.1107)">08:05</span>
<span class="t" style="left:1190.1px;top:380.7px;font-size:24px;transform:scaleX(1.0421)">08:10</span>
<span class="t" style="left:1313px;top:380.7px;font-size:24px;transform:scaleX(1.0421)">08:15</span>
<span class="t" style="left:1434px;top:380.7px;font-size:24px;transform:scaleX(1.1107)">08:20</span>
<span class="t" style="left:1556.9px;top:380.7px;font-size:24px;transform:scaleX(1.1107)">08:25</span>
<span class="t" style="left:1679.9px;top:380.7px;font-size:24px;transform:scaleX(1.1107)">08:30</span>
<span class="t" style="left:1802.9px;top:380.7px;font-size:24px;transform:scaleX(1.1107)">08:35</span>
<span class="t" style="left:890.3px;top:422.7px;font-size:24px;transform:scaleX(1.0872)">cpu 0</span>
<span class="t" style="left:1019.3px;top:422.7px;font-size:24px;transform:scaleX(1.0260)">cpu 1</span>
<span class="t" style="left:1144px;top:422.7px;font-size:24px;transform:scaleX(1.0903)">cpu 2</span>
<span class="t" style="left:1272.9px;top:422.7px;font-size:24px;transform:scaleX(1.1020)">cpu 3</span>
<span class="t" style="left:2508.9px;top:51px;font-size:29.5px;transform:scaleX(0.9752);-webkit-text-stroke:0.9px #ccccdc">CPU Usage</span>
<span class="t" style="left:2018.4px;top:116.7px;font-size:24px;transform:scaleX(1.0013)">100%</span>
<span class="t" style="left:2032.1px;top:233.7px;font-size:24px;transform:scaleX(0.9924)">50%</span>
<span class="t" style="left:2046.5px;top:350.7px;font-size:24px;transform:scaleX(0.9606)">0%</span>
<span class="t" style="left:2123.7px;top:380.7px;font-size:24px;transform:scaleX(1.1107)">08:00</span>
<span class="t" style="left:2246.6px;top:380.7px;font-size:24px;transform:scaleX(1.1107)">08:05</span>
<span class="t" style="left:2371.7px;top:380.7px;font-size:24px;transform:scaleX(1.0421)">08:10</span>
<span class="t" style="left:2494.6px;top:380.7px;font-size:24px;transform:scaleX(1.0421)">08:15</span>
<span class="t" style="left:2615.6px;top:380.7px;font-size:24px;transform:scaleX(1.1107)">08:20</span>
<span class="t" style="left:2738.5px;top:380.7px;font-size:24px;transform:scaleX(1.1107)">08:25</span>
<span class="t" style="left:2861.5px;top:380.7px;font-size:24px;transform:scaleX(1.1107)">08:30</span>
<span class="t" style="left:2984.5px;top:380.7px;font-size:24px;transform:scaleX(1.1107)">08:35</span>
<span class="t" style="left:2071.3px;top:422.7px;font-size:24px;transform:scaleX(1.1264)">idle</span>
<span class="t" style="left:2176.5px;top:422.7px;font-size:24px;transform:scaleX(1.1119)">iowait</span>
<span class="t" style="left:2309.6px;top:422.7px;font-size:24px;transform:scaleX(1.1302)">irq</span>
<span class="t" style="left:2404px;top:422.7px;font-size:24px;transform:scaleX(1.0885)">nice</span>
<span class="t" style="left:2516.5px;top:422.7px;font-size:24px;transform:scaleX(1.1478)">softirq</span>
<span class="t" style="left:2656.3px;top:422.7px;font-size:24px;transform:scaleX(1.0701)">steal</span>
<span class="t" style="left:2775.8px;top:422.7px;font-size:24px;transform:scaleX(1.0875)">system</span>
<span class="t" style="left:2922.7px;top:422.7px;font-size:24px;transform:scaleX(1.0540)">user</span>
<span class="t" style="left:719.4px;top:507px;font-size:29.5px;transform:scaleX(1.0142);-webkit-text-stroke:0.9px #ccccdc">Load Average</span>
<span class="t" style="left:50.7px;top:593.7px;font-size:24px;transform:scaleX(1.0557)">4</span>
<span class="t" style="left:52.2px;top:700.5px;font-size:24px;transform:scaleX(0.9747)">2</span>
<span class="t" style="left:51.4px;top:806.7px;font-size:24px;transform:scaleX(1.0174)">0</span>
<span class="t" style="left:132.1px;top:836.6px;font-size:24px;transform:scaleX(1.1107)">08:00</span>
<span class="t" style="left:307.5px;top:836.6px;font-size:24px;transform:scaleX(1.1107)">08:05</span>
<span class="t" style="left:485px;top:836.6px;font-size:24px;transform:scaleX(1.0421)">08:10</span>
<span class="t" style="left:660.4px;top:836.6px;font-size:24px;transform:scaleX(1.0421)">08:15</span>
<span class="t" style="left:833.8px;top:836.6px;font-size:24px;transform:scaleX(1.1107)">08:20</span>
<span class="t" style="left:1009.2px;top:836.6px;font-size:24px;transform:scaleX(1.1107)">08:25</span>
<span class="t" style="left:1184.7px;top:836.6px;font-size:24px;transform:scaleX(1.1107)">08:30</span>
<span class="t" style="left:1360.1px;top:836.6px;font-size:24px;transform:scaleX(1.1107)">08:35</span>
<span class="t" style="left:101.1px;top:878.7px;font-size:24px;transform:scaleX(1.0595)">1m load average</span>
<span class="t" style="left:355.4px;top:878.7px;font-size:24px;transform:scaleX(1.0712)">5m load average</span>
<span class="t" style="left:610.3px;top:878.7px;font-size:24px;transform:scaleX(1.0612)">15m load average</span>
<span class="t" style="left:878.4px;top:878.7px;font-size:24px;transform:scaleX(1.0881)">logical cores</span>
<span class="t" style="left:2191.4px;top:507px;font-size:29.5px;transform:scaleX(1.0413);-webkit-text-stroke:0.9px #ccccdc">Context Switches / Interrupts</span>
<span class="t" style="left:1625.4px;top:628.1px;font-size:24px;transform:scaleX(1.0740)">15000</span>
<span class="t" style="left:1624.4px;top:727.5px;font-size:24px;transform:scaleX(1.0896)">10000</span>
<span class="t" style="left:1761px;top:836.6px;font-size:24px;transform:scaleX(1.1107)">08:00</span>
<span class="t" style="left:1929.8px;top:836.6px;font-size:24px;transform:scaleX(1.1107)">08:05</span>
<span class="t" style="left:2100.7px;top:836.6px;font-size:24px;transform:scaleX(1.0421)">08:10</span>
<span class="t" style="left:2269.6px;top:836.6px;font-size:24px;transform:scaleX(1.0421)">08:15</span>
<span class="t" style="left:2436.4px;top:836.6px;font-size:24px;transform:scaleX(1.1107)">08:20</span>
<span class="t" style="left:2605.2px;top:836.6px;font-size:24px;transform:scaleX(1.1107)">08:25</span>
<span class="t" style="left:2774.1px;top:836.6px;font-size:24px;transform:scaleX(1.1107)">08:30</span>
<span class="t" style="left:2942.9px;top:836.6px;font-size:24px;transform:scaleX(1.1107)">08:35</span>
<span class="t" style="left:1677.9px;top:878.7px;font-size:24px;transform:scaleX(1.0974)">Context Switches</span>
<span class="t" style="left:1944.1px;top:878.7px;font-size:24px;transform:scaleX(1.1277)">Interrupts</span>
<span class="t" style="left:76.6px;top:957.2px;font-size:32.5px;transform:scaleX(1.0744);-webkit-text-stroke:1.0px #ccccdc">Time</span>
<span class="t" style="left:155.7px;top:1039px;font-size:29.5px;transform:scaleX(1.0229);-webkit-text-stroke:0.9px #ccccdc">Timezone</span>
<span class="t" style="left:144.4px;top:1136.5px;font-size:41.5px;transform:scaleX(1.0331);-webkit-text-stroke:1.3px #ccccdc">No data</span>
<span class="t" style="left:1631px;top:1039px;font-size:29.5px;transform:scaleX(1.0171);-webkit-text-stroke:0.9px #ccccdc">Time Syncronized Status</span>
<span class="t" style="left:450.1px;top:1131.4px;font-size:24px;transform:scaleX(1.0926)">Sync status</span>
<span class="t" style="left:872.7px;top:1188.7px;font-size:24px;transform:scaleX(1.1155)">08:02</span>
<span class="t" style="left:1171.7px;top:1188.7px;font-size:24px;transform:scaleX(1.1155)">08:07</span>
<span class="t" style="left:1472.8px;top:1188.7px;font-size:24px;transform:scaleX(1.0466)">08:12</span>
<span class="t" style="left:1771.9px;top:1188.7px;font-size:24px;transform:scaleX(1.0466)">08:17</span>
<span class="t" style="left:2068.9px;top:1188.7px;font-size:24px;transform:scaleX(1.1155)">08:22</span>
<span class="t" style="left:2367.9px;top:1188.7px;font-size:24px;transform:scaleX(1.1155)">08:27</span>
<span class="t" style="left:2667px;top:1188.7px;font-size:24px;transform:scaleX(1.1155)">08:32</span>
<span class="t" style="left:2966px;top:1188.7px;font-size:24px;transform:scaleX(1.1155)">08:37</span>
<span class="t" style="left:1448.2px;top:1267px;font-size:29.5px;transform:scaleX(1.0196);-webkit-text-stroke:0.9px #ccccdc">Time Syncronized Drift</span>
<span class="t" style="left:51.1px;top:1340.8px;font-size:24px;transform:scaleX(1.0846)">60 ms</span>
<span class="t" style="left:51.2px;top:1416px;font-size:24px;transform:scaleX(1.0844)">40 ms</span>
<span class="t" style="left:51.1px;top:1491.6px;font-size:24px;transform:scaleX(1.0846)">20 ms</span>
<span class="t" style="left:87.9px;top:1566.7px;font-size:24px;transform:scaleX(1.0678)">0 s</span>
<span class="t" style="left:273.1px;top:1596.7px;font-size:24px;transform:scaleX(1.1107)">08:00</span>
<span class="t" style="left:629.2px;top:1596.7px;font-size:24px;transform:scaleX(1.1107)">08:05</span>
<span class="t" style="left:987.3px;top:1596.7px;font-size:24px;transform:scaleX(1.0421)">08:10</span>
<span class="t" style="left:1343.4px;top:1596.7px;font-size:24px;transform:scaleX(1.0421)">08:15</span>
<span class="t" style="left:1697.5px;top:1596.7px;font-size:24px;transform:scaleX(1.1107)">08:20</span>
<span class="t" style="left:2053.6px;top:1596.7px;font-size:24px;transform:scaleX(1.1107)">08:25</span>
<span class="t" style="left:2409.7px;top:1596.7px;font-size:24px;transform:scaleX(1.1107)">08:30</span>
<span class="t" style="left:2765.8px;top:1596.7px;font-size:24px;transform:scaleX(1.1107)">08:35</span>
<span class="t" style="left:101.1px;top:1638.7px;font-size:24px;transform:scaleX(1.0887)">Estimated error in seconds</span>
<span class="t" style="left:477.1px;top:1638.7px;font-size:24px;transform:scaleX(1.0964)">Time offset in between local system and reference clock</span>
<span class="t" style="left:1193.2px;top:1638.7px;font-size:24px;transform:scaleX(1.0826)">Maximum error in seconds</span></div>
</body></html>
